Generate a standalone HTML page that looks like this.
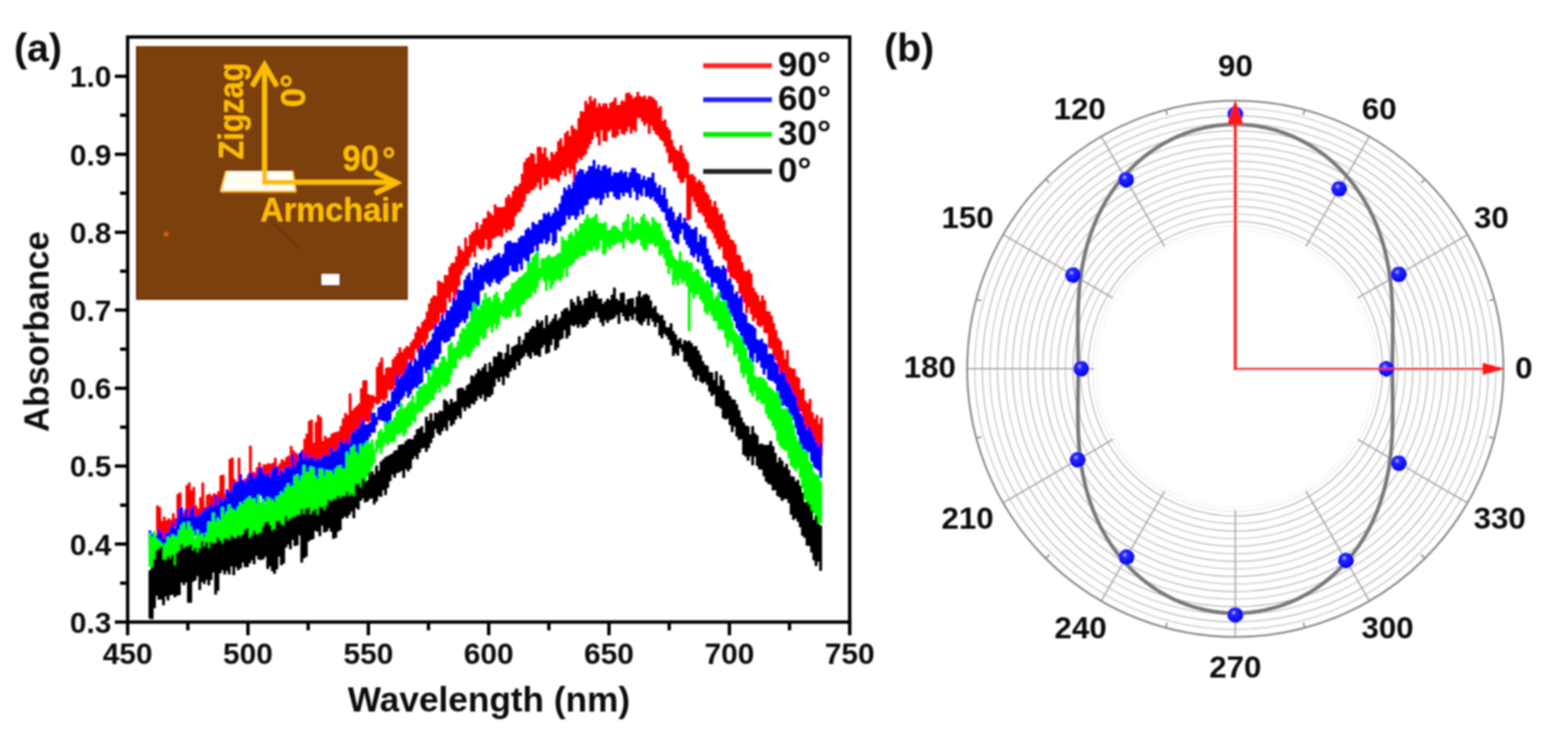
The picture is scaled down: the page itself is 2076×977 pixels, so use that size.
<!DOCTYPE html>
<html><head><meta charset="utf-8"><title>Absorbance figure</title><style>html,body{margin:0;padding:0;background:#fff;width:2076px;height:977px;overflow:hidden}</style></head><body>
<svg width="2076" height="977" viewBox="0 0 2076 977" style="display:block">
<rect x="0" y="0" width="2076" height="977" fill="#ffffff"/>
<defs><filter id="glob" filterUnits="userSpaceOnUse" x="0" y="0" width="2076" height="977"><feGaussianBlur stdDeviation="1.0"/></filter></defs>
<g filter="url(#glob)">
<g stroke-width="0.8" stroke-linejoin="miter">
<path fill="#ff0000" stroke="#ff0000" d="M207.0 669.4L210.0 669.4L210.0 671.7L213.0 671.7L213.0 690.0L216.0 690.0L216.0 684.2L219.0 684.2L219.0 689.1L222.0 689.1L222.0 686.8L225.0 686.8L225.0 688.6L228.0 688.6L228.0 679.9L231.0 679.9L231.0 686.6L234.0 686.6L234.0 654.3L237.0 654.3L237.0 652.3L240.0 652.3L240.0 680.6L243.0 680.6L243.0 677.1L246.0 677.1L246.0 642.7L249.0 642.7L249.0 639.2L252.0 639.2L252.0 649.4L255.0 649.4L255.0 644.9L258.0 644.9L258.0 669.6L261.0 669.6L261.0 673.6L264.0 673.6L264.0 658.7L267.0 658.7L267.0 639.2L270.0 639.2L270.0 671.6L273.0 671.6L273.0 655.3L276.0 655.3L276.0 654.1L279.0 654.1L279.0 656.8L282.0 656.8L282.0 653.5L285.0 653.5L285.0 654.8L288.0 654.8L288.0 650.8L291.0 650.8L291.0 629.4L294.0 629.4L294.0 628.9L297.0 628.9L297.0 654.3L300.0 654.3L300.0 650.4L303.0 650.4L303.0 607.9L306.0 607.9L306.0 606.1L309.0 606.1L309.0 634.5L312.0 634.5L312.0 640.3L315.0 640.3L315.0 606.5L318.0 606.5L318.0 638.7L321.0 638.7L321.0 635.6L324.0 635.6L324.0 633.7L327.0 633.7L327.0 629.1L330.0 629.1L330.0 590.4L333.0 590.4L333.0 624.9L336.0 624.9L336.0 626.0L339.0 626.0L339.0 618.9L342.0 618.9L342.0 612.4L345.0 612.4L345.0 620.4L348.0 620.4L348.0 615.1L351.0 615.1L351.0 615.2L354.0 615.2L354.0 613.4L357.0 613.4L357.0 614.4L360.0 614.4L360.0 613.0L363.0 613.0L363.0 606.5L366.0 606.5L366.0 617.5L369.0 617.5L369.0 614.0L372.0 614.0L372.0 608.5L375.0 608.5L375.0 610.5L378.0 610.5L378.0 605.3L381.0 605.3L381.0 603.7L384.0 603.7L384.0 590.8L387.0 590.8L387.0 596.6L390.0 596.6L390.0 599.5L393.0 599.5L393.0 602.5L396.0 602.5L396.0 600.6L399.0 600.6L399.0 595.6L402.0 595.6L402.0 581.2L405.0 581.2L405.0 574.3L408.0 574.3L408.0 557.7L411.0 557.7L411.0 555.9L414.0 555.9L414.0 586.6L417.0 586.6L417.0 559.1L420.0 559.1L420.0 549.8L423.0 549.8L423.0 552.6L426.0 552.6L426.0 584.2L429.0 584.2L429.0 577.3L432.0 577.3L432.0 580.3L435.0 580.3L435.0 579.3L438.0 579.3L438.0 574.4L441.0 574.4L441.0 573.0L444.0 573.0L444.0 572.2L447.0 572.2L447.0 571.3L450.0 571.3L450.0 564.3L453.0 564.3L453.0 554.2L456.0 554.2L456.0 547.1L459.0 547.1L459.0 550.0L462.0 550.0L462.0 521.2L465.0 521.2L465.0 543.7L468.0 543.7L468.0 540.3L471.0 540.3L471.0 537.7L474.0 537.7L474.0 534.5L477.0 534.5L477.0 514.2L480.0 514.2L480.0 504.0L483.0 504.0L483.0 503.6L486.0 503.6L486.0 522.0L489.0 522.0L489.0 523.3L492.0 523.3L492.0 523.6L495.0 523.6L495.0 525.6L498.0 525.6L498.0 485.9L501.0 485.9L501.0 480.0L504.0 480.0L504.0 473.7L507.0 473.7L507.0 496.6L510.0 496.6L510.0 487.3L513.0 487.3L513.0 486.4L516.0 486.4L516.0 486.7L519.0 486.7L519.0 475.9L522.0 475.9L522.0 472.2L525.0 472.2L525.0 468.0L528.0 468.0L528.0 460.2L531.0 460.2L531.0 466.3L534.0 466.3L534.0 462.0L537.0 462.0L537.0 458.4L540.0 458.4L540.0 459.2L543.0 459.2L543.0 453.3L546.0 453.3L546.0 449.5L549.0 449.5L549.0 440.3L552.0 440.3L552.0 432.3L555.0 432.3L555.0 434.5L558.0 434.5L558.0 426.4L561.0 426.4L561.0 423.3L564.0 423.3L564.0 413.0L567.0 413.0L567.0 401.9L570.0 401.9L570.0 395.0L573.0 395.0L573.0 391.3L576.0 391.3L576.0 392.3L579.0 392.3L579.0 371.8L582.0 371.8L582.0 373.3L585.0 373.3L585.0 374.9L588.0 374.9L588.0 364.4L591.0 364.4L591.0 364.8L594.0 364.8L594.0 353.2L597.0 353.2L597.0 348.4L600.0 348.4L600.0 348.0L603.0 348.0L603.0 339.4L606.0 339.4L606.0 326.0L609.0 326.0L609.0 330.6L612.0 330.6L612.0 333.2L615.0 333.2L615.0 314.9L618.0 314.9L618.0 326.3L621.0 326.3L621.0 311.1L624.0 311.1L624.0 307.5L627.0 307.5L627.0 305.0L630.0 305.0L630.0 294.7L633.0 294.7L633.0 303.8L636.0 303.8L636.0 297.6L639.0 297.6L639.0 289.7L642.0 289.7L642.0 288.9L645.0 288.9L645.0 279.8L648.0 279.8L648.0 282.4L651.0 282.4L651.0 285.4L654.0 285.4L654.0 271.0L657.0 271.0L657.0 274.5L660.0 274.5L660.0 274.7L663.0 274.7L663.0 274.8L666.0 274.8L666.0 273.9L669.0 273.9L669.0 262.0L672.0 262.0L672.0 258.1L675.0 258.1L675.0 261.9L678.0 261.9L678.0 253.0L681.0 253.0L681.0 246.6L684.0 246.6L684.0 247.2L687.0 247.2L687.0 243.5L690.0 243.5L690.0 230.4L693.0 230.4L693.0 214.9L696.0 214.9L696.0 210.1L699.0 210.1L699.0 208.0L702.0 208.0L702.0 203.1L705.0 203.1L705.0 204.3L708.0 204.3L708.0 216.7L711.0 216.7L711.0 194.8L714.0 194.8L714.0 194.9L717.0 194.9L717.0 203.4L720.0 203.4L720.0 195.5L723.0 195.5L723.0 208.4L726.0 208.4L726.0 212.9L729.0 212.9L729.0 201.5L732.0 201.5L732.0 205.1L735.0 205.1L735.0 201.2L738.0 201.2L738.0 187.3L741.0 187.3L741.0 183.6L744.0 183.6L744.0 193.8L747.0 193.8L747.0 176.5L750.0 176.5L750.0 173.4L753.0 173.4L753.0 180.6L756.0 180.6L756.0 166.6L759.0 166.6L759.0 170.4L762.0 170.4L762.0 172.3L765.0 172.3L765.0 156.7L768.0 156.7L768.0 147.6L771.0 147.6L771.0 148.2L774.0 148.2L774.0 134.0L777.0 134.0L777.0 138.1L780.0 138.1L780.0 127.8L783.0 127.8L783.0 134.1L786.0 134.1L786.0 130.5L789.0 130.5L789.0 142.3L792.0 142.3L792.0 136.9L795.0 136.9L795.0 141.1L798.0 141.1L798.0 137.0L801.0 137.0L801.0 137.4L804.0 137.4L804.0 143.2L807.0 143.2L807.0 136.5L810.0 136.5L810.0 134.4L813.0 134.4L813.0 129.7L816.0 129.7L816.0 139.7L819.0 139.7L819.0 138.9L822.0 138.9L822.0 133.4L825.0 133.4L825.0 134.8L828.0 134.8L828.0 123.9L831.0 123.9L831.0 122.8L834.0 122.8L834.0 126.0L837.0 126.0L837.0 130.6L840.0 130.6L840.0 128.5L843.0 128.5L843.0 122.0L846.0 122.0L846.0 127.3L849.0 127.3L849.0 128.8L852.0 128.8L852.0 126.7L855.0 126.7L855.0 131.3L858.0 131.3L858.0 127.4L861.0 127.4L861.0 128.3L864.0 128.3L864.0 130.4L867.0 130.4L867.0 133.6L870.0 133.6L870.0 143.3L873.0 143.3L873.0 140.9L876.0 140.9L876.0 160.4L879.0 160.4L879.0 158.5L882.0 158.5L882.0 168.6L885.0 168.6L885.0 172.1L888.0 172.1L888.0 185.4L891.0 185.4L891.0 194.2L894.0 194.2L894.0 198.6L897.0 198.6L897.0 200.3L900.0 200.3L900.0 192.7L903.0 192.7L903.0 203.1L906.0 203.1L906.0 210.1L909.0 210.1L909.0 214.4L912.0 214.4L912.0 231.4L915.0 231.4L915.0 230.5L918.0 230.5L918.0 233.8L921.0 233.8L921.0 241.7L924.0 241.7L924.0 238.3L927.0 238.3L927.0 240.9L930.0 240.9L930.0 244.9L933.0 244.9L933.0 254.8L936.0 254.8L936.0 257.8L939.0 257.8L939.0 264.5L942.0 264.5L942.0 273.4L945.0 273.4L945.0 266.6L948.0 266.6L948.0 275.2L951.0 275.2L951.0 284.4L954.0 284.4L954.0 283.1L957.0 283.1L957.0 292.0L960.0 292.0L960.0 304.6L963.0 304.6L963.0 310.7L966.0 310.7L966.0 317.1L969.0 317.1L969.0 318.6L972.0 318.6L972.0 323.4L975.0 323.4L975.0 337.2L978.0 337.2L978.0 338.3L981.0 338.3L981.0 347.5L984.0 347.5L984.0 358.3L987.0 358.3L987.0 359.5L990.0 359.5L990.0 357.3L993.0 357.3L993.0 362.3L996.0 362.3L996.0 381.1L999.0 381.1L999.0 386.5L1002.0 386.5L1002.0 390.9L1005.0 390.9L1005.0 399.0L1008.0 399.0L1008.0 391.6L1011.0 391.6L1011.0 397.9L1014.0 397.9L1014.0 412.3L1017.0 412.3L1017.0 412.7L1020.0 412.7L1020.0 418.2L1023.0 418.2L1023.0 427.9L1026.0 427.9L1026.0 437.3L1029.0 437.3L1029.0 447.9L1032.0 447.9L1032.0 451.5L1035.0 451.5L1035.0 463.8L1038.0 463.8L1038.0 475.8L1041.0 475.8L1041.0 463.6L1044.0 463.6L1044.0 486.0L1047.0 486.0L1047.0 488.1L1050.0 488.1L1050.0 488.4L1053.0 488.4L1053.0 498.4L1056.0 498.4L1056.0 500.5L1059.0 500.5L1059.0 516.1L1062.0 516.1L1062.0 514.2L1065.0 514.2L1065.0 530.7L1068.0 530.7L1068.0 534.2L1071.0 534.2L1071.0 528.4L1074.0 528.4L1074.0 546.0L1077.0 546.0L1077.0 554.6L1080.0 554.6L1080.0 549.7L1083.0 549.7L1083.0 561.5L1086.0 561.5L1086.0 553.2L1089.0 553.2L1089.0 603.4L1086.0 603.4L1086.0 607.3L1083.0 607.3L1083.0 593.4L1080.0 593.4L1080.0 590.3L1077.0 590.3L1077.0 584.7L1074.0 584.7L1074.0 578.8L1071.0 578.8L1071.0 573.9L1068.0 573.9L1068.0 566.8L1065.0 566.8L1065.0 565.0L1062.0 565.0L1062.0 544.5L1059.0 544.5L1059.0 546.4L1056.0 546.4L1056.0 537.5L1053.0 537.5L1053.0 531.7L1050.0 531.7L1050.0 521.1L1047.0 521.1L1047.0 519.8L1044.0 519.8L1044.0 507.0L1041.0 507.0L1041.0 507.4L1038.0 507.4L1038.0 502.4L1035.0 502.4L1035.0 496.2L1032.0 496.2L1032.0 486.8L1029.0 486.8L1029.0 476.9L1026.0 476.9L1026.0 471.1L1023.0 471.1L1023.0 461.5L1020.0 461.5L1020.0 460.2L1017.0 460.2L1017.0 441.1L1014.0 441.1L1014.0 440.3L1011.0 440.3L1011.0 430.3L1008.0 430.3L1008.0 432.4L1005.0 432.4L1005.0 430.9L1002.0 430.9L1002.0 420.7L999.0 420.7L999.0 425.0L996.0 425.0L996.0 415.5L993.0 415.5L993.0 406.6L990.0 406.6L990.0 414.6L987.0 414.6L987.0 400.4L984.0 400.4L984.0 393.4L981.0 393.4L981.0 388.0L978.0 388.0L978.0 374.7L975.0 374.7L975.0 370.1L972.0 370.1L972.0 368.1L969.0 368.1L969.0 366.6L966.0 366.6L966.0 360.1L963.0 360.1L963.0 345.0L960.0 345.0L960.0 342.4L957.0 342.4L957.0 326.3L954.0 326.3L954.0 329.7L951.0 329.7L951.0 322.7L948.0 322.7L948.0 315.3L945.0 315.3L945.0 308.0L942.0 308.0L942.0 303.5L939.0 303.5L939.0 301.8L936.0 301.8L936.0 294.4L933.0 294.4L933.0 285.7L930.0 285.7L930.0 281.7L927.0 281.7L927.0 281.3L924.0 281.3L924.0 273.2L921.0 273.2L921.0 266.8L918.0 266.8L918.0 260.3L915.0 260.3L915.0 290.0L912.0 290.0L912.0 292.0L909.0 292.0L909.0 235.4L906.0 235.4L906.0 241.2L903.0 241.2L903.0 241.7L900.0 241.7L900.0 236.1L897.0 236.1L897.0 226.4L894.0 226.4L894.0 226.2L891.0 226.2L891.0 214.5L888.0 214.5L888.0 215.7L885.0 215.7L885.0 202.1L882.0 202.1L882.0 193.6L879.0 193.6L879.0 187.0L876.0 187.0L876.0 184.4L873.0 184.4L873.0 179.8L870.0 179.8L870.0 177.2L867.0 177.2L867.0 172.4L864.0 172.4L864.0 166.0L861.0 166.0L861.0 177.0L858.0 177.0L858.0 162.9L855.0 162.9L855.0 166.1L852.0 166.1L852.0 160.9L849.0 160.9L849.0 155.9L846.0 155.9L846.0 155.9L843.0 155.9L843.0 173.9L840.0 173.9L840.0 171.3L837.0 171.3L837.0 176.7L834.0 176.7L834.0 167.7L831.0 167.7L831.0 173.7L828.0 173.7L828.0 178.1L825.0 178.1L825.0 176.8L822.0 176.8L822.0 170.9L819.0 170.9L819.0 179.2L816.0 179.2L816.0 182.1L813.0 182.1L813.0 181.7L810.0 181.7L810.0 171.3L807.0 171.3L807.0 173.9L804.0 173.9L804.0 186.9L801.0 186.9L801.0 186.4L798.0 186.4L798.0 171.8L795.0 171.8L795.0 192.1L792.0 192.1L792.0 181.3L789.0 181.3L789.0 174.1L786.0 174.1L786.0 184.3L783.0 184.3L783.0 190.5L780.0 190.5L780.0 196.2L777.0 196.2L777.0 204.0L774.0 204.0L774.0 206.9L771.0 206.9L771.0 211.7L768.0 211.7L768.0 208.8L765.0 208.8L765.0 215.2L762.0 215.2L762.0 240.0L759.0 240.0L759.0 224.2L756.0 224.2L756.0 229.4L753.0 229.4L753.0 221.8L750.0 221.8L750.0 233.1L747.0 233.1L747.0 225.9L744.0 225.9L744.0 231.0L741.0 231.0L741.0 240.2L738.0 240.2L738.0 237.1L735.0 237.1L735.0 236.2L732.0 236.2L732.0 237.3L729.0 237.3L729.0 234.2L726.0 234.2L726.0 243.5L723.0 243.5L723.0 245.4L720.0 245.4L720.0 235.0L717.0 235.0L717.0 250.9L714.0 250.9L714.0 241.5L711.0 241.5L711.0 247.1L708.0 247.1L708.0 250.5L705.0 250.5L705.0 251.9L702.0 251.9L702.0 255.9L699.0 255.9L699.0 256.5L696.0 256.5L696.0 266.6L693.0 266.6L693.0 273.9L690.0 273.9L690.0 279.6L687.0 279.6L687.0 281.6L684.0 281.6L684.0 286.1L681.0 286.1L681.0 299.7L678.0 299.7L678.0 304.4L675.0 304.4L675.0 303.7L672.0 303.7L672.0 307.6L669.0 307.6L669.0 302.1L666.0 302.1L666.0 313.5L663.0 313.5L663.0 312.0L660.0 312.0L660.0 312.2L657.0 312.2L657.0 314.4L654.0 314.4L654.0 315.8L651.0 315.8L651.0 328.1L648.0 328.1L648.0 330.6L645.0 330.6L645.0 316.5L642.0 316.5L642.0 328.2L639.0 328.2L639.0 330.5L636.0 330.5L636.0 328.6L633.0 328.6L633.0 325.1L630.0 325.1L630.0 340.0L627.0 340.0L627.0 333.8L624.0 333.8L624.0 340.7L621.0 340.7L621.0 351.3L618.0 351.3L618.0 352.3L615.0 352.3L615.0 357.1L612.0 357.1L612.0 363.3L609.0 363.3L609.0 378.2L606.0 378.2L606.0 389.5L603.0 389.5L603.0 398.2L600.0 398.2L600.0 386.4L597.0 386.4L597.0 400.1L594.0 400.1L594.0 393.9L591.0 393.9L591.0 412.3L588.0 412.3L588.0 417.3L585.0 417.3L585.0 413.7L582.0 413.7L582.0 425.6L579.0 425.6L579.0 429.6L576.0 429.6L576.0 435.0L573.0 435.0L573.0 436.3L570.0 436.3L570.0 438.6L567.0 438.6L567.0 449.0L564.0 449.0L564.0 457.3L561.0 457.3L561.0 453.2L558.0 453.2L558.0 466.0L555.0 466.0L555.0 466.4L552.0 466.4L552.0 461.7L549.0 461.7L549.0 476.0L546.0 476.0L546.0 480.1L543.0 480.1L543.0 475.2L540.0 475.2L540.0 490.4L537.0 490.4L537.0 496.9L534.0 496.9L534.0 495.5L531.0 495.5L531.0 498.8L528.0 498.8L528.0 508.5L525.0 508.5L525.0 510.6L522.0 510.6L522.0 514.3L519.0 514.3L519.0 517.1L516.0 517.1L516.0 515.7L513.0 515.7L513.0 527.3L510.0 527.3L510.0 530.9L507.0 530.9L507.0 528.1L504.0 528.1L504.0 533.6L501.0 533.6L501.0 535.1L498.0 535.1L498.0 532.9L495.0 532.9L495.0 540.2L492.0 540.2L492.0 556.6L489.0 556.6L489.0 558.5L486.0 558.5L486.0 557.4L483.0 557.4L483.0 577.8L480.0 577.8L480.0 574.2L477.0 574.2L477.0 581.0L474.0 581.0L474.0 584.5L471.0 584.5L471.0 592.4L468.0 592.4L468.0 585.8L465.0 585.8L465.0 600.2L462.0 600.2L462.0 602.3L459.0 602.3L459.0 597.0L456.0 597.0L456.0 597.0L453.0 597.0L453.0 607.8L450.0 607.8L450.0 601.0L447.0 601.0L447.0 613.0L444.0 613.0L444.0 603.5L441.0 603.5L441.0 615.5L438.0 615.5L438.0 616.2L435.0 616.2L435.0 607.6L432.0 607.6L432.0 609.4L429.0 609.4L429.0 624.2L426.0 624.2L426.0 612.7L423.0 612.7L423.0 622.8L420.0 622.8L420.0 616.5L417.0 616.5L417.0 613.3L414.0 613.3L414.0 627.9L411.0 627.9L411.0 627.0L408.0 627.0L408.0 620.0L405.0 620.0L405.0 614.4L402.0 614.4L402.0 619.1L399.0 619.1L399.0 611.2L396.0 611.2L396.0 624.2L393.0 624.2L393.0 629.7L390.0 629.7L390.0 631.6L387.0 631.6L387.0 634.6L384.0 634.6L384.0 619.3L381.0 619.3L381.0 624.9L378.0 624.9L378.0 630.0L375.0 630.0L375.0 621.5L372.0 621.5L372.0 630.4L369.0 630.4L369.0 635.1L366.0 635.1L366.0 643.5L363.0 643.5L363.0 643.3L360.0 643.3L360.0 653.0L357.0 653.0L357.0 650.5L354.0 650.5L354.0 638.5L351.0 638.5L351.0 638.2L348.0 638.2L348.0 632.2L345.0 632.2L345.0 629.2L342.0 629.2L342.0 634.6L339.0 634.6L339.0 637.7L336.0 637.7L336.0 647.3L333.0 647.3L333.0 637.9L330.0 637.9L330.0 647.4L327.0 647.4L327.0 649.2L324.0 649.2L324.0 653.7L321.0 653.7L321.0 641.7L318.0 641.7L318.0 654.6L315.0 654.6L315.0 652.5L312.0 652.5L312.0 658.6L309.0 658.6L309.0 656.1L306.0 656.1L306.0 665.2L303.0 665.2L303.0 659.0L300.0 659.0L300.0 673.3L297.0 673.3L297.0 675.7L294.0 675.7L294.0 680.0L291.0 680.0L291.0 682.3L288.0 682.3L288.0 666.9L285.0 666.9L285.0 674.1L282.0 674.1L282.0 677.0L279.0 677.0L279.0 671.9L276.0 671.9L276.0 681.7L273.0 681.7L273.0 685.3L270.0 685.3L270.0 680.6L267.0 680.6L267.0 693.6L264.0 693.6L264.0 681.9L261.0 681.9L261.0 684.1L258.0 684.1L258.0 697.3L255.0 697.3L255.0 690.2L252.0 690.2L252.0 690.8L249.0 690.8L249.0 699.2L246.0 699.2L246.0 688.4L243.0 688.4L243.0 692.6L240.0 692.6L240.0 698.6L237.0 698.6L237.0 697.4L234.0 697.4L234.0 697.4L231.0 697.4L231.0 707.1L228.0 707.1L228.0 700.6L225.0 700.6L225.0 712.1L222.0 712.1L222.0 726.8L219.0 726.8L219.0 728.2L216.0 728.2L216.0 719.1L213.0 719.1L213.0 729.0L210.0 729.0L210.0 720.2L207.0 720.2Z"/>
<path fill="#0000ff" stroke="#0000ff" d="M197.0 702.8L200.0 702.8L200.0 706.4L203.0 706.4L203.0 707.5L206.0 707.5L206.0 708.7L209.0 708.7L209.0 700.4L212.0 700.4L212.0 705.4L215.0 705.4L215.0 713.8L218.0 713.8L218.0 705.3L221.0 705.3L221.0 706.5L224.0 706.5L224.0 699.1L227.0 699.1L227.0 691.8L230.0 691.8L230.0 699.4L233.0 699.4L233.0 686.9L236.0 686.9L236.0 672.9L239.0 672.9L239.0 672.0L242.0 672.0L242.0 683.5L245.0 683.5L245.0 673.8L248.0 673.8L248.0 684.2L251.0 684.2L251.0 675.1L254.0 675.1L254.0 670.5L257.0 670.5L257.0 684.5L260.0 684.5L260.0 682.2L263.0 682.2L263.0 681.4L266.0 681.4L266.0 677.2L269.0 677.2L269.0 674.6L272.0 674.6L272.0 673.8L275.0 673.8L275.0 670.8L278.0 670.8L278.0 668.0L281.0 668.0L281.0 670.6L284.0 670.6L284.0 655.9L287.0 655.9L287.0 668.6L290.0 668.6L290.0 658.3L293.0 658.3L293.0 662.9L296.0 662.9L296.0 660.1L299.0 660.1L299.0 648.1L302.0 648.1L302.0 652.0L305.0 652.0L305.0 649.4L308.0 649.4L308.0 640.5L311.0 640.5L311.0 638.2L314.0 638.2L314.0 637.8L317.0 637.8L317.0 627.9L320.0 627.9L320.0 636.0L323.0 636.0L323.0 638.1L326.0 638.1L326.0 634.0L329.0 634.0L329.0 626.4L332.0 626.4L332.0 627.4L335.0 627.4L335.0 633.3L338.0 633.3L338.0 629.9L341.0 629.9L341.0 621.0L344.0 621.0L344.0 618.8L347.0 618.8L347.0 626.2L350.0 626.2L350.0 628.1L353.0 628.1L353.0 627.3L356.0 627.3L356.0 632.1L359.0 632.1L359.0 621.6L362.0 621.6L362.0 618.3L365.0 618.3L365.0 617.8L368.0 617.8L368.0 629.3L371.0 629.3L371.0 622.6L374.0 622.6L374.0 625.3L377.0 625.3L377.0 618.5L380.0 618.5L380.0 618.0L383.0 618.0L383.0 619.9L386.0 619.9L386.0 601.6L389.0 601.6L389.0 617.8L392.0 617.8L392.0 610.8L395.0 610.8L395.0 600.4L398.0 600.4L398.0 597.7L401.0 597.7L401.0 607.8L404.0 607.8L404.0 600.1L407.0 600.1L407.0 607.9L410.0 607.9L410.0 605.2L413.0 605.2L413.0 605.2L416.0 605.2L416.0 610.2L419.0 610.2L419.0 606.6L422.0 606.6L422.0 607.9L425.0 607.9L425.0 606.3L428.0 606.3L428.0 602.2L431.0 602.2L431.0 603.4L434.0 603.4L434.0 602.2L437.0 602.2L437.0 592.4L440.0 592.4L440.0 597.5L443.0 597.5L443.0 597.3L446.0 597.3L446.0 593.0L449.0 593.0L449.0 584.3L452.0 584.3L452.0 586.1L455.0 586.1L455.0 587.3L458.0 587.3L458.0 582.3L461.0 582.3L461.0 587.2L464.0 587.2L464.0 574.6L467.0 574.6L467.0 571.7L470.0 571.7L470.0 567.7L473.0 567.7L473.0 567.3L476.0 567.3L476.0 561.6L479.0 561.6L479.0 554.5L482.0 554.5L482.0 562.3L485.0 562.3L485.0 562.1L488.0 562.1L488.0 559.6L491.0 559.6L491.0 546.8L494.0 546.8L494.0 546.7L497.0 546.7L497.0 552.2L500.0 552.2L500.0 539.7L503.0 539.7L503.0 538.0L506.0 538.0L506.0 533.3L509.0 533.3L509.0 534.8L512.0 534.8L512.0 530.4L515.0 530.4L515.0 531.9L518.0 531.9L518.0 518.6L521.0 518.6L521.0 513.8L524.0 513.8L524.0 496.5L527.0 496.5L527.0 501.8L530.0 501.8L530.0 497.7L533.0 497.7L533.0 495.3L536.0 495.3L536.0 488.2L539.0 488.2L539.0 481.1L542.0 481.1L542.0 478.4L545.0 478.4L545.0 484.8L548.0 484.8L548.0 474.6L551.0 474.6L551.0 478.0L554.0 478.0L554.0 462.0L557.0 462.0L557.0 457.2L560.0 457.2L560.0 462.9L563.0 462.9L563.0 457.2L566.0 457.2L566.0 453.4L569.0 453.4L569.0 450.6L572.0 450.6L572.0 441.4L575.0 441.4L575.0 429.7L578.0 429.7L578.0 432.7L581.0 432.7L581.0 426.0L584.0 426.0L584.0 417.2L587.0 417.2L587.0 423.6L590.0 423.6L590.0 410.9L593.0 410.9L593.0 411.6L596.0 411.6L596.0 406.1L599.0 406.1L599.0 394.6L602.0 394.6L602.0 397.5L605.0 397.5L605.0 383.5L608.0 383.5L608.0 384.6L611.0 384.6L611.0 384.6L614.0 384.6L614.0 370.8L617.0 370.8L617.0 365.0L620.0 365.0L620.0 361.3L623.0 361.3L623.0 370.9L626.0 370.9L626.0 354.4L629.0 354.4L629.0 348.1L632.0 348.1L632.0 357.1L635.0 357.1L635.0 350.7L638.0 350.7L638.0 352.2L641.0 352.2L641.0 348.7L644.0 348.7L644.0 342.7L647.0 342.7L647.0 346.6L650.0 346.6L650.0 344.1L653.0 344.1L653.0 339.1L656.0 339.1L656.0 337.6L659.0 337.6L659.0 335.2L662.0 335.2L662.0 341.1L665.0 341.1L665.0 336.5L668.0 336.5L668.0 322.9L671.0 322.9L671.0 319.6L674.0 319.6L674.0 319.0L677.0 319.0L677.0 321.9L680.0 321.9L680.0 321.3L683.0 321.3L683.0 321.8L686.0 321.8L686.0 315.4L689.0 315.4L689.0 312.4L692.0 312.4L692.0 312.7L695.0 312.7L695.0 304.4L698.0 304.4L698.0 301.7L701.0 301.7L701.0 304.8L704.0 304.8L704.0 294.1L707.0 294.1L707.0 296.7L710.0 296.7L710.0 297.3L713.0 297.3L713.0 291.5L716.0 291.5L716.0 291.3L719.0 291.3L719.0 282.7L722.0 282.7L722.0 284.2L725.0 284.2L725.0 281.2L728.0 281.2L728.0 286.4L731.0 286.4L731.0 282.6L734.0 282.6L734.0 275.1L737.0 275.1L737.0 279.3L740.0 279.3L740.0 269.8L743.0 269.8L743.0 259.2L746.0 259.2L746.0 248.7L749.0 248.7L749.0 251.9L752.0 251.9L752.0 244.9L755.0 244.9L755.0 249.9L758.0 249.9L758.0 240.9L761.0 240.9L761.0 231.8L764.0 231.8L764.0 227.3L767.0 227.3L767.0 224.1L770.0 224.1L770.0 225.1L773.0 225.1L773.0 230.3L776.0 230.3L776.0 226.8L779.0 226.8L779.0 220.1L782.0 220.1L782.0 220.5L785.0 220.5L785.0 212.0L788.0 212.0L788.0 223.7L791.0 223.7L791.0 218.4L794.0 218.4L794.0 225.8L797.0 225.8L797.0 220.0L800.0 220.0L800.0 219.0L803.0 219.0L803.0 223.8L806.0 223.8L806.0 221.9L809.0 221.9L809.0 233.0L812.0 233.0L812.0 228.3L815.0 228.3L815.0 229.1L818.0 229.1L818.0 228.5L821.0 228.5L821.0 225.7L824.0 225.7L824.0 229.2L827.0 229.2L827.0 227.4L830.0 227.4L830.0 234.9L833.0 234.9L833.0 228.4L836.0 228.4L836.0 222.6L839.0 222.6L839.0 222.9L842.0 222.9L842.0 229.1L845.0 229.1L845.0 230.6L848.0 230.6L848.0 238.1L851.0 238.1L851.0 233.1L854.0 233.1L854.0 239.1L857.0 239.1L857.0 235.0L860.0 235.0L860.0 235.4L863.0 235.4L863.0 228.9L866.0 228.9L866.0 241.9L869.0 241.9L869.0 249.0L872.0 249.0L872.0 245.3L875.0 245.3L875.0 258.3L878.0 258.3L878.0 248.7L881.0 248.7L881.0 263.7L884.0 263.7L884.0 276.7L887.0 276.7L887.0 274.1L890.0 274.1L890.0 281.0L893.0 281.0L893.0 291.8L896.0 291.8L896.0 287.1L899.0 287.1L899.0 282.4L902.0 282.4L902.0 295.6L905.0 295.6L905.0 288.7L908.0 288.7L908.0 295.4L911.0 295.4L911.0 298.9L914.0 298.9L914.0 303.6L917.0 303.6L917.0 303.2L920.0 303.2L920.0 300.8L923.0 300.8L923.0 320.7L926.0 320.7L926.0 310.8L929.0 310.8L929.0 314.3L932.0 314.3L932.0 313.2L935.0 313.2L935.0 329.3L938.0 329.3L938.0 338.4L941.0 338.4L941.0 344.1L944.0 344.1L944.0 353.9L947.0 353.9L947.0 352.6L950.0 352.6L950.0 353.2L953.0 353.2L953.0 356.9L956.0 356.9L956.0 351.8L959.0 351.8L959.0 355.5L962.0 355.5L962.0 371.7L965.0 371.7L965.0 368.4L968.0 368.4L968.0 377.3L971.0 377.3L971.0 389.2L974.0 389.2L974.0 386.5L977.0 386.5L977.0 395.1L980.0 395.1L980.0 391.7L983.0 391.7L983.0 414.7L986.0 414.7L986.0 416.8L989.0 416.8L989.0 427.8L992.0 427.8L992.0 429.5L995.0 429.5L995.0 431.2L998.0 431.2L998.0 434.5L1001.0 434.5L1001.0 449.5L1004.0 449.5L1004.0 451.0L1007.0 451.0L1007.0 448.7L1010.0 448.7L1010.0 454.3L1013.0 454.3L1013.0 455.9L1016.0 455.9L1016.0 469.1L1019.0 469.1L1019.0 468.3L1022.0 468.3L1022.0 469.4L1025.0 469.4L1025.0 479.8L1028.0 479.8L1028.0 483.0L1031.0 483.0L1031.0 495.7L1034.0 495.7L1034.0 492.3L1037.0 492.3L1037.0 494.0L1040.0 494.0L1040.0 504.2L1043.0 504.2L1043.0 507.8L1046.0 507.8L1046.0 514.7L1049.0 514.7L1049.0 521.0L1052.0 521.0L1052.0 525.2L1055.0 525.2L1055.0 538.2L1058.0 538.2L1058.0 547.5L1061.0 547.5L1061.0 551.8L1064.0 551.8L1064.0 562.4L1067.0 562.4L1067.0 568.9L1070.0 568.9L1070.0 564.8L1073.0 564.8L1073.0 570.9L1076.0 570.9L1076.0 578.7L1079.0 578.7L1079.0 585.3L1082.0 585.3L1082.0 591.6L1085.0 591.6L1085.0 587.0L1088.0 587.0L1088.0 632.5L1085.0 632.5L1085.0 622.2L1082.0 622.2L1082.0 620.1L1079.0 620.1L1079.0 618.2L1076.0 618.2L1076.0 610.8L1073.0 610.8L1073.0 598.5L1070.0 598.5L1070.0 606.2L1067.0 606.2L1067.0 595.3L1064.0 595.3L1064.0 597.9L1061.0 597.9L1061.0 594.0L1058.0 594.0L1058.0 575.8L1055.0 575.8L1055.0 566.7L1052.0 566.7L1052.0 555.4L1049.0 555.4L1049.0 553.0L1046.0 553.0L1046.0 547.3L1043.0 547.3L1043.0 538.6L1040.0 538.6L1040.0 535.8L1037.0 535.8L1037.0 537.3L1034.0 537.3L1034.0 530.0L1031.0 530.0L1031.0 522.0L1028.0 522.0L1028.0 507.2L1025.0 507.2L1025.0 504.2L1022.0 504.2L1022.0 503.8L1019.0 503.8L1019.0 502.4L1016.0 502.4L1016.0 488.2L1013.0 488.2L1013.0 495.5L1010.0 495.5L1010.0 486.4L1007.0 486.4L1007.0 477.3L1004.0 477.3L1004.0 480.0L1001.0 480.0L1001.0 467.5L998.0 467.5L998.0 479.6L995.0 479.6L995.0 476.6L992.0 476.6L992.0 462.7L989.0 462.7L989.0 456.7L986.0 456.7L986.0 458.9L983.0 458.9L983.0 445.0L980.0 445.0L980.0 438.2L977.0 438.2L977.0 434.5L974.0 434.5L974.0 425.1L971.0 425.1L971.0 418.9L968.0 418.9L968.0 416.1L965.0 416.1L965.0 414.0L962.0 414.0L962.0 404.5L959.0 404.5L959.0 397.0L956.0 397.0L956.0 394.1L953.0 394.1L953.0 382.3L950.0 382.3L950.0 374.7L947.0 374.7L947.0 373.4L944.0 373.4L944.0 380.4L941.0 380.4L941.0 367.1L938.0 367.1L938.0 365.2L935.0 365.2L935.0 357.1L932.0 357.1L932.0 349.0L929.0 349.0L929.0 338.5L926.0 338.5L926.0 346.7L923.0 346.7L923.0 335.7L920.0 335.7L920.0 340.3L917.0 340.3L917.0 337.6L914.0 337.6L914.0 327.6L911.0 327.6L911.0 323.7L908.0 323.7L908.0 317.1L905.0 317.1L905.0 303.1L902.0 303.1L902.0 309.6L899.0 309.6L899.0 322.9L896.0 322.9L896.0 320.7L893.0 320.7L893.0 316.0L890.0 316.0L890.0 306.2L887.0 306.2L887.0 300.2L884.0 300.2L884.0 291.6L881.0 291.6L881.0 281.0L878.0 281.0L878.0 279.5L875.0 279.5L875.0 274.3L872.0 274.3L872.0 269.6L869.0 269.6L869.0 266.3L866.0 266.3L866.0 260.3L863.0 260.3L863.0 263.3L860.0 263.3L860.0 259.8L857.0 259.8L857.0 260.2L854.0 260.2L854.0 248.6L851.0 248.6L851.0 259.4L848.0 259.4L848.0 256.1L845.0 256.1L845.0 264.4L842.0 264.4L842.0 253.4L839.0 253.4L839.0 248.2L836.0 248.2L836.0 261.3L833.0 261.3L833.0 255.2L830.0 255.2L830.0 254.2L827.0 254.2L827.0 259.6L824.0 259.6L824.0 254.9L821.0 254.9L821.0 263.9L818.0 263.9L818.0 263.3L815.0 263.3L815.0 260.1L812.0 260.1L812.0 253.6L809.0 253.6L809.0 253.6L806.0 253.6L806.0 261.3L803.0 261.3L803.0 255.2L800.0 255.2L800.0 263.7L797.0 263.7L797.0 271.0L794.0 271.0L794.0 261.8L791.0 261.8L791.0 264.0L788.0 264.0L788.0 261.2L785.0 261.2L785.0 261.8L782.0 261.8L782.0 263.4L779.0 263.4L779.0 270.9L776.0 270.9L776.0 272.0L773.0 272.0L773.0 283.5L770.0 283.5L770.0 277.1L767.0 277.1L767.0 285.8L764.0 285.8L764.0 290.4L761.0 290.4L761.0 285.0L758.0 285.0L758.0 285.3L755.0 285.3L755.0 290.2L752.0 290.2L752.0 285.0L749.0 285.0L749.0 297.3L746.0 297.3L746.0 298.9L743.0 298.9L743.0 305.8L740.0 305.8L740.0 303.7L737.0 303.7L737.0 321.1L734.0 321.1L734.0 324.8L731.0 324.8L731.0 308.1L728.0 308.1L728.0 318.9L725.0 318.9L725.0 322.7L722.0 322.7L722.0 316.3L719.0 316.3L719.0 322.0L716.0 322.0L716.0 321.9L713.0 321.9L713.0 333.2L710.0 333.2L710.0 324.9L707.0 324.9L707.0 334.3L704.0 334.3L704.0 335.8L701.0 335.8L701.0 347.4L698.0 347.4L698.0 344.6L695.0 344.6L695.0 341.3L692.0 341.3L692.0 356.9L689.0 356.9L689.0 349.1L686.0 349.1L686.0 359.6L683.0 359.6L683.0 359.3L680.0 359.3L680.0 358.6L677.0 358.6L677.0 351.4L674.0 351.4L674.0 363.9L671.0 363.9L671.0 366.0L668.0 366.0L668.0 367.9L665.0 367.9L665.0 371.2L662.0 371.2L662.0 376.0L659.0 376.0L659.0 374.0L656.0 374.0L656.0 369.1L653.0 369.1L653.0 373.4L650.0 373.4L650.0 379.0L647.0 379.0L647.0 375.6L644.0 375.6L644.0 372.6L641.0 372.6L641.0 383.3L638.0 383.3L638.0 384.4L635.0 384.4L635.0 404.8L632.0 404.8L632.0 408.0L629.0 408.0L629.0 424.5L626.0 424.5L626.0 422.4L623.0 422.4L623.0 411.0L620.0 411.0L620.0 421.6L617.0 421.6L617.0 427.5L614.0 427.5L614.0 423.9L611.0 423.9L611.0 427.0L608.0 427.0L608.0 432.5L605.0 432.5L605.0 434.0L602.0 434.0L602.0 444.9L599.0 444.9L599.0 445.5L596.0 445.5L596.0 451.2L593.0 451.2L593.0 452.7L590.0 452.7L590.0 453.5L587.0 453.5L587.0 450.8L584.0 450.8L584.0 467.9L581.0 467.9L581.0 475.1L578.0 475.1L578.0 475.2L575.0 475.2L575.0 482.8L572.0 482.8L572.0 489.7L569.0 489.7L569.0 489.3L566.0 489.3L566.0 493.8L563.0 493.8L563.0 485.7L560.0 485.7L560.0 506.4L557.0 506.4L557.0 508.2L554.0 508.2L554.0 513.7L551.0 513.7L551.0 511.9L548.0 511.9L548.0 515.1L545.0 515.1L545.0 521.9L542.0 521.9L542.0 526.3L539.0 526.3L539.0 518.0L536.0 518.0L536.0 524.8L533.0 524.8L533.0 528.7L530.0 528.7L530.0 538.7L527.0 538.7L527.0 534.7L524.0 534.7L524.0 542.1L521.0 542.1L521.0 544.4L518.0 544.4L518.0 557.1L515.0 557.1L515.0 564.5L512.0 564.5L512.0 567.6L509.0 567.6L509.0 557.2L506.0 557.2L506.0 556.2L503.0 556.2L503.0 555.2L500.0 555.2L500.0 562.4L497.0 562.4L497.0 572.5L494.0 572.5L494.0 572.3L491.0 572.3L491.0 578.1L488.0 578.1L488.0 592.9L485.0 592.9L485.0 597.1L482.0 597.1L482.0 600.6L479.0 600.6L479.0 605.6L476.0 605.6L476.0 606.5L473.0 606.5L473.0 606.9L470.0 606.9L470.0 608.9L467.0 608.9L467.0 610.4L464.0 610.4L464.0 615.5L461.0 615.5L461.0 620.3L458.0 620.3L458.0 631.7L455.0 631.7L455.0 624.5L452.0 624.5L452.0 632.3L449.0 632.3L449.0 635.9L446.0 635.9L446.0 638.9L443.0 638.9L443.0 642.3L440.0 642.3L440.0 647.2L437.0 647.2L437.0 638.8L434.0 638.8L434.0 633.8L431.0 633.8L431.0 638.7L428.0 638.7L428.0 649.6L425.0 649.6L425.0 651.4L422.0 651.4L422.0 651.1L419.0 651.1L419.0 644.1L416.0 644.1L416.0 643.1L413.0 643.1L413.0 641.9L410.0 641.9L410.0 626.4L407.0 626.4L407.0 637.5L404.0 637.5L404.0 639.6L401.0 639.6L401.0 642.4L398.0 642.4L398.0 643.1L395.0 643.1L395.0 647.4L392.0 647.4L392.0 657.0L389.0 657.0L389.0 656.9L386.0 656.9L386.0 650.8L383.0 650.8L383.0 656.4L380.0 656.4L380.0 657.4L377.0 657.4L377.0 655.2L374.0 655.2L374.0 674.5L371.0 674.5L371.0 667.3L368.0 667.3L368.0 677.1L365.0 677.1L365.0 678.6L362.0 678.6L362.0 671.5L359.0 671.5L359.0 678.1L356.0 678.1L356.0 678.1L353.0 678.1L353.0 664.6L350.0 664.6L350.0 670.1L347.0 670.1L347.0 656.0L344.0 656.0L344.0 656.0L341.0 656.0L341.0 672.7L338.0 672.7L338.0 669.6L335.0 669.6L335.0 671.2L332.0 671.2L332.0 675.3L329.0 675.3L329.0 674.2L326.0 674.2L326.0 675.8L323.0 675.8L323.0 683.1L320.0 683.1L320.0 675.1L317.0 675.1L317.0 683.4L314.0 683.4L314.0 696.4L311.0 696.4L311.0 693.3L308.0 693.3L308.0 690.1L305.0 690.1L305.0 686.0L302.0 686.0L302.0 693.4L299.0 693.4L299.0 697.7L296.0 697.7L296.0 690.6L293.0 690.6L293.0 691.2L290.0 691.2L290.0 704.5L287.0 704.5L287.0 698.2L284.0 698.2L284.0 703.9L281.0 703.9L281.0 694.6L278.0 694.6L278.0 716.9L275.0 716.9L275.0 720.6L272.0 720.6L272.0 713.3L269.0 713.3L269.0 713.4L266.0 713.4L266.0 716.1L263.0 716.1L263.0 725.5L260.0 725.5L260.0 708.6L257.0 708.6L257.0 715.6L254.0 715.6L254.0 722.1L251.0 722.1L251.0 716.3L248.0 716.3L248.0 715.0L245.0 715.0L245.0 721.1L242.0 721.1L242.0 716.8L239.0 716.8L239.0 715.1L236.0 715.1L236.0 720.4L233.0 720.4L233.0 717.6L230.0 717.6L230.0 719.9L227.0 719.9L227.0 724.3L224.0 724.3L224.0 730.6L221.0 730.6L221.0 722.6L218.0 722.6L218.0 726.9L215.0 726.9L215.0 735.7L212.0 735.7L212.0 732.5L209.0 732.5L209.0 729.6L206.0 729.6L206.0 719.9L203.0 719.9L203.0 721.1L200.0 721.1L200.0 721.7L197.0 721.7Z"/>
<path fill="#00ff00" stroke="#00ff00" d="M197.0 706.5L200.0 706.5L200.0 711.7L203.0 711.7L203.0 703.4L206.0 703.4L206.0 713.3L209.0 713.3L209.0 716.0L212.0 716.0L212.0 719.0L215.0 719.0L215.0 722.2L218.0 722.2L218.0 719.2L221.0 719.2L221.0 710.7L224.0 710.7L224.0 712.4L227.0 712.4L227.0 708.1L230.0 708.1L230.0 710.3L233.0 710.3L233.0 710.2L236.0 710.2L236.0 701.9L239.0 701.9L239.0 695.0L242.0 695.0L242.0 692.1L245.0 692.1L245.0 700.9L248.0 700.9L248.0 691.0L251.0 691.0L251.0 697.4L254.0 697.4L254.0 702.9L257.0 702.9L257.0 712.9L260.0 712.9L260.0 701.8L263.0 701.8L263.0 709.1L266.0 709.1L266.0 706.7L269.0 706.7L269.0 711.0L272.0 711.0L272.0 705.4L275.0 705.4L275.0 690.9L278.0 690.9L278.0 691.3L281.0 691.3L281.0 679.1L284.0 679.1L284.0 691.2L287.0 691.2L287.0 686.0L290.0 686.0L290.0 689.1L293.0 689.1L293.0 671.8L296.0 671.8L296.0 681.5L299.0 681.5L299.0 677.5L302.0 677.5L302.0 668.3L305.0 668.3L305.0 673.1L308.0 673.1L308.0 675.2L311.0 675.2L311.0 676.2L314.0 676.2L314.0 671.0L317.0 671.0L317.0 665.3L320.0 665.3L320.0 668.3L323.0 668.3L323.0 663.0L326.0 663.0L326.0 660.0L329.0 660.0L329.0 657.6L332.0 657.6L332.0 661.5L335.0 661.5L335.0 660.1L338.0 660.1L338.0 667.1L341.0 667.1L341.0 655.6L344.0 655.6L344.0 665.5L347.0 665.5L347.0 661.5L350.0 661.5L350.0 666.9L353.0 666.9L353.0 658.3L356.0 658.3L356.0 660.4L359.0 660.4L359.0 661.8L362.0 661.8L362.0 665.0L365.0 665.0L365.0 657.6L368.0 657.6L368.0 656.6L371.0 656.6L371.0 651.3L374.0 651.3L374.0 652.9L377.0 652.9L377.0 645.8L380.0 645.8L380.0 640.5L383.0 640.5L383.0 644.8L386.0 644.8L386.0 643.7L389.0 643.7L389.0 630.2L392.0 630.2L392.0 628.4L395.0 628.4L395.0 637.1L398.0 637.1L398.0 630.0L401.0 630.0L401.0 616.3L404.0 616.3L404.0 625.2L407.0 625.2L407.0 625.1L410.0 625.1L410.0 618.0L413.0 618.0L413.0 619.0L416.0 619.0L416.0 630.2L419.0 630.2L419.0 634.6L422.0 634.6L422.0 620.8L425.0 620.8L425.0 621.1L428.0 621.1L428.0 631.5L431.0 631.5L431.0 622.8L434.0 622.8L434.0 623.2L437.0 623.2L437.0 623.8L440.0 623.8L440.0 628.6L443.0 628.6L443.0 620.8L446.0 620.8L446.0 617.3L449.0 617.3L449.0 616.7L452.0 616.7L452.0 620.9L455.0 620.9L455.0 620.9L458.0 620.9L458.0 598.7L461.0 598.7L461.0 602.6L464.0 602.6L464.0 592.5L467.0 592.5L467.0 589.7L470.0 589.7L470.0 599.0L473.0 599.0L473.0 601.8L476.0 601.8L476.0 588.6L479.0 588.6L479.0 591.5L482.0 591.5L482.0 587.6L485.0 587.6L485.0 584.0L488.0 584.0L488.0 587.4L491.0 587.4L491.0 582.1L494.0 582.1L494.0 595.8L497.0 595.8L497.0 582.7L500.0 582.7L500.0 571.7L503.0 571.7L503.0 568.3L506.0 568.3L506.0 572.7L509.0 572.7L509.0 559.5L512.0 559.5L512.0 561.5L515.0 561.5L515.0 557.9L518.0 557.9L518.0 557.0L521.0 557.0L521.0 552.7L524.0 552.7L524.0 544.7L527.0 544.7L527.0 541.4L530.0 541.4L530.0 534.1L533.0 534.1L533.0 541.2L536.0 541.2L536.0 539.1L539.0 539.1L539.0 534.0L542.0 534.0L542.0 531.1L545.0 531.1L545.0 523.4L548.0 523.4L548.0 533.9L551.0 533.9L551.0 518.0L554.0 518.0L554.0 511.8L557.0 511.8L557.0 511.7L560.0 511.7L560.0 508.1L563.0 508.1L563.0 508.2L566.0 508.2L566.0 491.6L569.0 491.6L569.0 499.0L572.0 499.0L572.0 482.2L575.0 482.2L575.0 486.0L578.0 486.0L578.0 487.0L581.0 487.0L581.0 480.5L584.0 480.5L584.0 472.1L587.0 472.1L587.0 472.6L590.0 472.6L590.0 479.0L593.0 479.0L593.0 456.6L596.0 456.6L596.0 453.1L599.0 453.1L599.0 461.3L602.0 461.3L602.0 459.9L605.0 459.9L605.0 452.1L608.0 452.1L608.0 441.7L611.0 441.7L611.0 434.5L614.0 434.5L614.0 435.7L617.0 435.7L617.0 428.6L620.0 428.6L620.0 426.2L623.0 426.2L623.0 413.1L626.0 413.1L626.0 401.0L629.0 401.0L629.0 404.6L632.0 404.6L632.0 410.2L635.0 410.2L635.0 404.3L638.0 404.3L638.0 397.5L641.0 397.5L641.0 388.2L644.0 388.2L644.0 394.7L647.0 394.7L647.0 393.7L650.0 393.7L650.0 399.2L653.0 399.2L653.0 390.6L656.0 390.6L656.0 386.4L659.0 386.4L659.0 394.1L662.0 394.1L662.0 401.0L665.0 401.0L665.0 397.2L668.0 397.2L668.0 387.0L671.0 387.0L671.0 386.0L674.0 386.0L674.0 382.9L677.0 382.9L677.0 374.9L680.0 374.9L680.0 374.4L683.0 374.4L683.0 371.4L686.0 371.4L686.0 367.5L689.0 367.5L689.0 366.5L692.0 366.5L692.0 363.3L695.0 363.3L695.0 360.2L698.0 360.2L698.0 347.3L701.0 347.3L701.0 347.5L704.0 347.5L704.0 340.4L707.0 340.4L707.0 336.6L710.0 336.6L710.0 333.4L713.0 333.4L713.0 354.6L716.0 354.6L716.0 342.2L719.0 342.2L719.0 342.8L722.0 342.8L722.0 340.9L725.0 340.9L725.0 337.6L728.0 337.6L728.0 340.2L731.0 340.2L731.0 340.4L734.0 340.4L734.0 339.0L737.0 339.0L737.0 336.2L740.0 336.2L740.0 334.9L743.0 334.9L743.0 313.4L746.0 313.4L746.0 317.8L749.0 317.8L749.0 319.2L752.0 319.2L752.0 310.7L755.0 310.7L755.0 307.8L758.0 307.8L758.0 312.5L761.0 312.5L761.0 302.7L764.0 302.7L764.0 306.6L767.0 306.6L767.0 295.9L770.0 295.9L770.0 296.5L773.0 296.5L773.0 290.8L776.0 290.8L776.0 284.2L779.0 284.2L779.0 288.8L782.0 288.8L782.0 289.7L785.0 289.7L785.0 287.2L788.0 287.2L788.0 283.3L791.0 283.3L791.0 295.0L794.0 295.0L794.0 295.0L797.0 295.0L797.0 296.2L800.0 296.2L800.0 294.1L803.0 294.1L803.0 305.1L806.0 305.1L806.0 304.6L809.0 304.6L809.0 300.3L812.0 300.3L812.0 298.8L815.0 298.8L815.0 300.7L818.0 300.7L818.0 304.5L821.0 304.5L821.0 307.1L824.0 307.1L824.0 294.4L827.0 294.4L827.0 292.1L830.0 292.1L830.0 283.4L833.0 283.4L833.0 305.1L836.0 305.1L836.0 287.3L839.0 287.3L839.0 296.5L842.0 296.5L842.0 294.5L845.0 294.5L845.0 297.0L848.0 297.0L848.0 287.2L851.0 287.2L851.0 283.4L854.0 283.4L854.0 292.0L857.0 292.0L857.0 294.0L860.0 294.0L860.0 299.4L863.0 299.4L863.0 287.8L866.0 287.8L866.0 292.5L869.0 292.5L869.0 295.5L872.0 295.5L872.0 295.7L875.0 295.7L875.0 305.1L878.0 305.1L878.0 313.6L881.0 313.6L881.0 317.9L884.0 317.9L884.0 318.2L887.0 318.2L887.0 330.6L890.0 330.6L890.0 339.5L893.0 339.5L893.0 343.3L896.0 343.3L896.0 345.3L899.0 345.3L899.0 333.6L902.0 333.6L902.0 345.1L905.0 345.1L905.0 347.0L908.0 347.0L908.0 344.8L911.0 344.8L911.0 348.0L914.0 348.0L914.0 347.9L917.0 347.9L917.0 360.1L920.0 360.1L920.0 356.6L923.0 356.6L923.0 357.0L926.0 357.0L926.0 365.9L929.0 365.9L929.0 368.3L932.0 368.3L932.0 374.3L935.0 374.3L935.0 371.6L938.0 371.6L938.0 375.6L941.0 375.6L941.0 384.0L944.0 384.0L944.0 396.2L947.0 396.2L947.0 392.3L950.0 392.3L950.0 387.0L953.0 387.0L953.0 398.9L956.0 398.9L956.0 398.5L959.0 398.5L959.0 398.6L962.0 398.6L962.0 408.4L965.0 408.4L965.0 415.6L968.0 415.6L968.0 426.3L971.0 426.3L971.0 437.5L974.0 437.5L974.0 441.3L977.0 441.3L977.0 444.9L980.0 444.9L980.0 446.3L983.0 446.3L983.0 455.3L986.0 455.3L986.0 460.3L989.0 460.3L989.0 474.5L992.0 474.5L992.0 475.3L995.0 475.3L995.0 481.3L998.0 481.3L998.0 497.7L1001.0 497.7L1001.0 500.0L1004.0 500.0L1004.0 499.2L1007.0 499.2L1007.0 499.8L1010.0 499.8L1010.0 501.6L1013.0 501.6L1013.0 505.3L1016.0 505.3L1016.0 512.3L1019.0 512.3L1019.0 513.9L1022.0 513.9L1022.0 516.8L1025.0 516.8L1025.0 520.2L1028.0 520.2L1028.0 518.4L1031.0 518.4L1031.0 528.4L1034.0 528.4L1034.0 541.1L1037.0 541.1L1037.0 541.2L1040.0 541.2L1040.0 540.8L1043.0 540.8L1043.0 547.2L1046.0 547.2L1046.0 550.3L1049.0 550.3L1049.0 562.3L1052.0 562.3L1052.0 576.6L1055.0 576.6L1055.0 583.6L1058.0 583.6L1058.0 588.6L1061.0 588.6L1061.0 594.9L1064.0 594.9L1064.0 596.9L1067.0 596.9L1067.0 598.8L1070.0 598.8L1070.0 610.8L1073.0 610.8L1073.0 614.3L1076.0 614.3L1076.0 625.9L1079.0 625.9L1079.0 628.1L1082.0 628.1L1082.0 629.4L1085.0 629.4L1085.0 637.9L1088.0 637.9L1088.0 692.0L1085.0 692.0L1085.0 703.8L1082.0 703.8L1082.0 694.7L1079.0 694.7L1079.0 678.8L1076.0 678.8L1076.0 677.5L1073.0 677.5L1073.0 673.2L1070.0 673.2L1070.0 663.9L1067.0 663.9L1067.0 660.7L1064.0 660.7L1064.0 645.4L1061.0 645.4L1061.0 632.3L1058.0 632.3L1058.0 618.5L1055.0 618.5L1055.0 623.8L1052.0 623.8L1052.0 619.2L1049.0 619.2L1049.0 616.5L1046.0 616.5L1046.0 606.5L1043.0 606.5L1043.0 596.4L1040.0 596.4L1040.0 595.4L1037.0 595.4L1037.0 593.3L1034.0 593.3L1034.0 589.9L1031.0 589.9L1031.0 584.0L1028.0 584.0L1028.0 569.6L1025.0 569.6L1025.0 564.1L1022.0 564.1L1022.0 556.3L1019.0 556.3L1019.0 553.8L1016.0 553.8L1016.0 547.7L1013.0 547.7L1013.0 534.3L1010.0 534.3L1010.0 534.8L1007.0 534.8L1007.0 528.8L1004.0 528.8L1004.0 530.7L1001.0 530.7L1001.0 517.3L998.0 517.3L998.0 524.4L995.0 524.4L995.0 519.5L992.0 519.5L992.0 508.2L989.0 508.2L989.0 494.6L986.0 494.6L986.0 499.7L983.0 499.7L983.0 493.5L980.0 493.5L980.0 478.4L977.0 478.4L977.0 467.3L974.0 467.3L974.0 470.4L971.0 470.4L971.0 454.4L968.0 454.4L968.0 450.6L965.0 450.6L965.0 459.4L962.0 459.4L962.0 448.1L959.0 448.1L959.0 437.1L956.0 437.1L956.0 436.0L953.0 436.0L953.0 436.0L950.0 436.0L950.0 425.0L947.0 425.0L947.0 424.7L944.0 424.7L944.0 417.9L941.0 417.9L941.0 410.9L938.0 410.9L938.0 416.4L935.0 416.4L935.0 412.9L932.0 412.9L932.0 400.3L929.0 400.3L929.0 396.2L926.0 396.2L926.0 389.6L923.0 389.6L923.0 389.7L920.0 389.7L920.0 394.8L917.0 394.8L917.0 386.7L914.0 386.7L914.0 438.0L911.0 438.0L911.0 378.9L908.0 378.9L908.0 371.4L905.0 371.4L905.0 375.0L902.0 375.0L902.0 368.4L899.0 368.4L899.0 377.5L896.0 377.5L896.0 371.2L893.0 371.2L893.0 377.4L890.0 377.4L890.0 354.6L887.0 354.6L887.0 362.5L884.0 362.5L884.0 351.7L881.0 351.7L881.0 341.7L878.0 341.7L878.0 335.2L875.0 335.2L875.0 338.1L872.0 338.1L872.0 325.7L869.0 325.7L869.0 326.5L866.0 326.5L866.0 321.8L863.0 321.8L863.0 322.3L860.0 322.3L860.0 322.2L857.0 322.2L857.0 331.0L854.0 331.0L854.0 330.1L851.0 330.1L851.0 325.2L848.0 325.2L848.0 317.1L845.0 317.1L845.0 315.5L842.0 315.5L842.0 319.4L839.0 319.4L839.0 322.5L836.0 322.5L836.0 321.3L833.0 321.3L833.0 317.9L830.0 317.9L830.0 314.7L827.0 314.7L827.0 328.9L824.0 328.9L824.0 321.1L821.0 321.1L821.0 320.0L818.0 320.0L818.0 321.8L815.0 321.8L815.0 324.2L812.0 324.2L812.0 323.7L809.0 323.7L809.0 330.2L806.0 330.2L806.0 326.7L803.0 326.7L803.0 335.3L800.0 335.3L800.0 336.2L797.0 336.2L797.0 317.6L794.0 317.6L794.0 328.4L791.0 328.4L791.0 332.0L788.0 332.0L788.0 326.1L785.0 326.1L785.0 332.5L782.0 332.5L782.0 331.7L779.0 331.7L779.0 331.2L776.0 331.2L776.0 338.2L773.0 338.2L773.0 338.6L770.0 338.6L770.0 337.8L767.0 337.8L767.0 342.3L764.0 342.3L764.0 342.8L761.0 342.8L761.0 348.1L758.0 348.1L758.0 351.6L755.0 351.6L755.0 351.9L752.0 351.9L752.0 366.3L749.0 366.3L749.0 355.0L746.0 355.0L746.0 367.6L743.0 367.6L743.0 371.8L740.0 371.8L740.0 369.0L737.0 369.0L737.0 371.0L734.0 371.0L734.0 376.9L731.0 376.9L731.0 382.4L728.0 382.4L728.0 369.9L725.0 369.9L725.0 384.5L722.0 384.5L722.0 372.8L719.0 372.8L719.0 366.7L716.0 366.7L716.0 370.4L713.0 370.4L713.0 380.6L710.0 380.6L710.0 388.4L707.0 388.4L707.0 385.2L704.0 385.2L704.0 393.5L701.0 393.5L701.0 394.7L698.0 394.7L698.0 396.7L695.0 396.7L695.0 402.4L692.0 402.4L692.0 403.2L689.0 403.2L689.0 418.5L686.0 418.5L686.0 419.5L683.0 419.5L683.0 408.8L680.0 408.8L680.0 411.5L677.0 411.5L677.0 420.2L674.0 420.2L674.0 419.4L671.0 419.4L671.0 421.7L668.0 421.7L668.0 419.2L665.0 419.2L665.0 417.4L662.0 417.4L662.0 429.5L659.0 429.5L659.0 435.5L656.0 435.5L656.0 428.7L653.0 428.7L653.0 439.9L650.0 439.9L650.0 432.0L647.0 432.0L647.0 434.5L644.0 434.5L644.0 447.0L641.0 447.0L641.0 449.0L638.0 449.0L638.0 444.2L635.0 444.2L635.0 458.3L632.0 458.3L632.0 456.4L629.0 456.4L629.0 461.0L626.0 461.0L626.0 465.7L623.0 465.7L623.0 472.7L620.0 472.7L620.0 472.7L617.0 472.7L617.0 469.1L614.0 469.1L614.0 471.5L611.0 471.5L611.0 476.4L608.0 476.4L608.0 474.6L605.0 474.6L605.0 487.6L602.0 487.6L602.0 486.3L599.0 486.3L599.0 496.8L596.0 496.8L596.0 506.8L593.0 506.8L593.0 511.1L590.0 511.1L590.0 511.9L587.0 511.9L587.0 508.4L584.0 508.4L584.0 519.8L581.0 519.8L581.0 513.5L578.0 513.5L578.0 520.8L575.0 520.8L575.0 529.3L572.0 529.3L572.0 529.3L569.0 529.3L569.0 534.1L566.0 534.1L566.0 536.9L563.0 536.9L563.0 537.2L560.0 537.2L560.0 544.9L557.0 544.9L557.0 544.5L554.0 544.5L554.0 547.4L551.0 547.4L551.0 558.9L548.0 558.9L548.0 556.2L545.0 556.2L545.0 563.4L542.0 563.4L542.0 565.7L539.0 565.7L539.0 573.1L536.0 573.1L536.0 577.3L533.0 577.3L533.0 572.1L530.0 572.1L530.0 575.2L527.0 575.2L527.0 574.4L524.0 574.4L524.0 584.7L521.0 584.7L521.0 584.4L518.0 584.4L518.0 584.2L515.0 584.2L515.0 589.5L512.0 589.5L512.0 585.2L509.0 585.2L509.0 590.8L506.0 590.8L506.0 600.8L503.0 600.8L503.0 593.0L500.0 593.0L500.0 598.3L497.0 598.3L497.0 612.3L494.0 612.3L494.0 618.1L491.0 618.1L491.0 624.8L488.0 624.8L488.0 630.2L485.0 630.2L485.0 639.9L482.0 639.9L482.0 648.6L479.0 648.6L479.0 658.6L476.0 658.6L476.0 665.5L473.0 665.5L473.0 659.1L470.0 659.1L470.0 667.5L467.0 667.5L467.0 659.5L464.0 659.5L464.0 662.4L461.0 662.4L461.0 660.2L458.0 660.2L458.0 659.9L455.0 659.9L455.0 671.4L452.0 671.4L452.0 673.2L449.0 673.2L449.0 670.8L446.0 670.8L446.0 676.8L443.0 676.8L443.0 674.2L440.0 674.2L440.0 685.3L437.0 685.3L437.0 687.3L434.0 687.3L434.0 679.2L431.0 679.2L431.0 681.4L428.0 681.4L428.0 680.2L425.0 680.2L425.0 693.0L422.0 693.0L422.0 685.6L419.0 685.6L419.0 693.6L416.0 693.6L416.0 681.9L413.0 681.9L413.0 692.5L410.0 692.5L410.0 681.4L407.0 681.4L407.0 684.0L404.0 684.0L404.0 694.0L401.0 694.0L401.0 694.0L398.0 694.0L398.0 697.0L395.0 697.0L395.0 695.4L392.0 695.4L392.0 702.2L389.0 702.2L389.0 707.4L386.0 707.4L386.0 696.8L383.0 696.8L383.0 700.8L380.0 700.8L380.0 699.7L377.0 699.7L377.0 704.2L374.0 704.2L374.0 705.9L371.0 705.9L371.0 705.3L368.0 705.3L368.0 705.1L365.0 705.1L365.0 703.4L362.0 703.4L362.0 705.0L359.0 705.0L359.0 710.1L356.0 710.1L356.0 704.3L353.0 704.3L353.0 717.4L350.0 717.4L350.0 711.9L347.0 711.9L347.0 707.0L344.0 707.0L344.0 708.1L341.0 708.1L341.0 712.9L338.0 712.9L338.0 722.6L335.0 722.6L335.0 716.0L332.0 716.0L332.0 713.4L329.0 713.4L329.0 717.7L326.0 717.7L326.0 713.3L323.0 713.3L323.0 708.8L320.0 708.8L320.0 717.2L317.0 717.2L317.0 721.8L314.0 721.8L314.0 721.0L311.0 721.0L311.0 719.0L308.0 719.0L308.0 732.5L305.0 732.5L305.0 730.2L302.0 730.2L302.0 719.4L299.0 719.4L299.0 731.0L296.0 731.0L296.0 728.0L293.0 728.0L293.0 729.9L290.0 729.9L290.0 731.7L287.0 731.7L287.0 732.9L284.0 732.9L284.0 734.6L281.0 734.6L281.0 730.6L278.0 730.6L278.0 729.8L275.0 729.8L275.0 730.3L272.0 730.3L272.0 728.1L269.0 728.1L269.0 738.3L266.0 738.3L266.0 741.7L263.0 741.7L263.0 737.8L260.0 737.8L260.0 740.4L257.0 740.4L257.0 746.3L254.0 746.3L254.0 736.5L251.0 736.5L251.0 740.9L248.0 740.9L248.0 738.9L245.0 738.9L245.0 732.5L242.0 732.5L242.0 744.9L239.0 744.9L239.0 745.1L236.0 745.1L236.0 744.6L233.0 744.6L233.0 750.5L230.0 750.5L230.0 746.1L227.0 746.1L227.0 745.4L224.0 745.4L224.0 747.4L221.0 747.4L221.0 750.7L218.0 750.7L218.0 751.0L215.0 751.0L215.0 751.0L212.0 751.0L212.0 743.7L209.0 743.7L209.0 750.8L206.0 750.8L206.0 760.1L203.0 760.1L203.0 762.7L200.0 762.7L200.0 750.1L197.0 750.1Z"/>
<path fill="#000000" stroke="#000000" d="M197.0 755.2L200.0 755.2L200.0 751.3L203.0 751.3L203.0 740.4L206.0 740.4L206.0 728.6L209.0 728.6L209.0 727.2L212.0 727.2L212.0 724.0L215.0 724.0L215.0 741.1L218.0 741.1L218.0 741.1L221.0 741.1L221.0 736.3L224.0 736.3L224.0 739.8L227.0 739.8L227.0 734.9L230.0 734.9L230.0 748.4L233.0 748.4L233.0 731.8L236.0 731.8L236.0 728.9L239.0 728.9L239.0 720.8L242.0 720.8L242.0 725.9L245.0 725.9L245.0 723.5L248.0 723.5L248.0 722.8L251.0 722.8L251.0 721.2L254.0 721.2L254.0 728.8L257.0 728.8L257.0 725.5L260.0 725.5L260.0 731.3L263.0 731.3L263.0 725.9L266.0 725.9L266.0 716.9L269.0 716.9L269.0 723.7L272.0 723.7L272.0 718.1L275.0 718.1L275.0 725.7L278.0 725.7L278.0 717.7L281.0 717.7L281.0 719.0L284.0 719.0L284.0 718.9L287.0 718.9L287.0 711.8L290.0 711.8L290.0 715.5L293.0 715.5L293.0 719.9L296.0 719.9L296.0 712.4L299.0 712.4L299.0 713.0L302.0 713.0L302.0 714.7L305.0 714.7L305.0 709.0L308.0 709.0L308.0 711.4L311.0 711.4L311.0 712.6L314.0 712.6L314.0 708.8L317.0 708.8L317.0 709.6L320.0 709.6L320.0 707.6L323.0 707.6L323.0 701.5L326.0 701.5L326.0 699.2L329.0 699.2L329.0 712.3L332.0 712.3L332.0 709.1L335.0 709.1L335.0 702.8L338.0 702.8L338.0 707.3L341.0 707.3L341.0 706.6L344.0 706.6L344.0 705.0L347.0 705.0L347.0 697.3L350.0 697.3L350.0 691.9L353.0 691.9L353.0 690.6L356.0 690.6L356.0 695.6L359.0 695.6L359.0 702.0L362.0 702.0L362.0 700.6L365.0 700.6L365.0 690.0L368.0 690.0L368.0 689.4L371.0 689.4L371.0 694.1L374.0 694.1L374.0 695.8L377.0 695.8L377.0 683.1L380.0 683.1L380.0 689.4L383.0 689.4L383.0 686.5L386.0 686.5L386.0 684.3L389.0 684.3L389.0 684.0L392.0 684.0L392.0 681.8L395.0 681.8L395.0 681.6L398.0 681.6L398.0 674.0L401.0 674.0L401.0 680.6L404.0 680.6L404.0 673.5L407.0 673.5L407.0 672.3L410.0 672.3L410.0 681.1L413.0 681.1L413.0 676.6L416.0 676.6L416.0 674.1L419.0 674.1L419.0 681.7L422.0 681.7L422.0 670.5L425.0 670.5L425.0 671.4L428.0 671.4L428.0 675.4L431.0 675.4L431.0 669.1L434.0 669.1L434.0 661.9L437.0 661.9L437.0 664.0L440.0 664.0L440.0 661.0L443.0 661.0L443.0 660.9L446.0 660.9L446.0 656.3L449.0 656.3L449.0 659.4L452.0 659.4L452.0 656.8L455.0 656.8L455.0 656.7L458.0 656.7L458.0 651.3L461.0 651.3L461.0 656.6L464.0 656.6L464.0 654.0L467.0 654.0L467.0 657.0L470.0 657.0L470.0 640.3L473.0 640.3L473.0 640.9L476.0 640.9L476.0 645.3L479.0 645.3L479.0 633.4L482.0 633.4L482.0 637.7L485.0 637.7L485.0 636.3L488.0 636.3L488.0 625.7L491.0 625.7L491.0 624.1L494.0 624.1L494.0 628.4L497.0 628.4L497.0 616.4L500.0 616.4L500.0 623.7L503.0 623.7L503.0 611.2L506.0 611.2L506.0 608.6L509.0 608.6L509.0 605.3L512.0 605.3L512.0 604.1L515.0 604.1L515.0 602.4L518.0 602.4L518.0 600.9L521.0 600.9L521.0 597.0L524.0 597.0L524.0 596.2L527.0 596.2L527.0 589.5L530.0 589.5L530.0 588.7L533.0 588.7L533.0 588.2L536.0 588.2L536.0 584.2L539.0 584.2L539.0 581.5L542.0 581.5L542.0 581.4L545.0 581.4L545.0 582.0L548.0 582.0L548.0 576.2L551.0 576.2L551.0 568.5L554.0 568.5L554.0 567.3L557.0 567.3L557.0 564.6L560.0 564.6L560.0 573.3L563.0 573.3L563.0 552.0L566.0 552.0L566.0 557.3L569.0 557.3L569.0 547.3L572.0 547.3L572.0 557.2L575.0 557.2L575.0 546.7L578.0 546.7L578.0 547.2L581.0 547.2L581.0 544.1L584.0 544.1L584.0 544.7L587.0 544.7L587.0 529.1L590.0 529.1L590.0 531.5L593.0 531.5L593.0 535.8L596.0 535.8L596.0 528.4L599.0 528.4L599.0 532.9L602.0 532.9L602.0 531.8L605.0 531.8L605.0 514.9L608.0 514.9L608.0 513.7L611.0 513.7L611.0 513.9L614.0 513.9L614.0 517.1L617.0 517.1L617.0 510.6L620.0 510.6L620.0 508.2L623.0 508.2L623.0 497.4L626.0 497.4L626.0 498.9L629.0 498.9L629.0 495.1L632.0 495.1L632.0 488.7L635.0 488.7L635.0 491.1L638.0 491.1L638.0 486.7L641.0 486.7L641.0 481.9L644.0 481.9L644.0 492.5L647.0 492.5L647.0 480.0L650.0 480.0L650.0 485.3L653.0 485.3L653.0 472.3L656.0 472.3L656.0 472.6L659.0 472.6L659.0 466.0L662.0 466.0L662.0 467.0L665.0 467.0L665.0 475.8L668.0 475.8L668.0 467.5L671.0 467.5L671.0 456.0L674.0 456.0L674.0 470.1L677.0 470.1L677.0 459.6L680.0 459.6L680.0 457.9L683.0 457.9L683.0 456.3L686.0 456.3L686.0 445.5L689.0 445.5L689.0 456.5L692.0 456.5L692.0 450.0L695.0 450.0L695.0 440.7L698.0 440.7L698.0 440.1L701.0 440.1L701.0 435.9L704.0 435.9L704.0 432.1L707.0 432.1L707.0 433.4L710.0 433.4L710.0 423.8L713.0 423.8L713.0 427.7L716.0 427.7L716.0 424.6L719.0 424.6L719.0 434.8L722.0 434.8L722.0 417.8L725.0 417.8L725.0 430.1L728.0 430.1L728.0 426.2L731.0 426.2L731.0 422.0L734.0 422.0L734.0 416.2L737.0 416.2L737.0 424.4L740.0 424.4L740.0 421.1L743.0 421.1L743.0 412.3L746.0 412.3L746.0 409.0L749.0 409.0L749.0 407.8L752.0 407.8L752.0 411.7L755.0 411.7L755.0 396.4L758.0 396.4L758.0 400.5L761.0 400.5L761.0 404.6L764.0 404.6L764.0 392.6L767.0 392.6L767.0 398.2L770.0 398.2L770.0 404.0L773.0 404.0L773.0 395.5L776.0 395.5L776.0 394.8L779.0 394.8L779.0 386.0L782.0 386.0L782.0 392.5L785.0 392.5L785.0 384.5L788.0 384.5L788.0 389.3L791.0 389.3L791.0 395.9L794.0 395.9L794.0 395.6L797.0 395.6L797.0 402.6L800.0 402.6L800.0 399.6L803.0 399.6L803.0 395.7L806.0 395.7L806.0 397.5L809.0 397.5L809.0 390.5L812.0 390.5L812.0 381.1L815.0 381.1L815.0 395.9L818.0 395.9L818.0 398.3L821.0 398.3L821.0 388.1L824.0 388.1L824.0 387.5L827.0 387.5L827.0 403.5L830.0 403.5L830.0 396.6L833.0 396.6L833.0 395.5L836.0 395.5L836.0 395.1L839.0 395.1L839.0 406.8L842.0 406.8L842.0 393.0L845.0 393.0L845.0 385.6L848.0 385.6L848.0 393.7L851.0 393.7L851.0 390.7L854.0 390.7L854.0 389.1L857.0 389.1L857.0 391.4L860.0 391.4L860.0 398.1L863.0 398.1L863.0 408.0L866.0 408.0L866.0 405.4L869.0 405.4L869.0 414.6L872.0 414.6L872.0 417.8L875.0 417.8L875.0 417.4L878.0 417.4L878.0 424.5L881.0 424.5L881.0 433.5L884.0 433.5L884.0 433.8L887.0 433.8L887.0 428.3L890.0 428.3L890.0 438.8L893.0 438.8L893.0 442.9L896.0 442.9L896.0 450.5L899.0 450.5L899.0 447.9L902.0 447.9L902.0 455.9L905.0 455.9L905.0 450.6L908.0 450.6L908.0 452.4L911.0 452.4L911.0 451.3L914.0 451.3L914.0 454.5L917.0 454.5L917.0 458.9L920.0 458.9L920.0 458.4L923.0 458.4L923.0 464.6L926.0 464.6L926.0 470.3L929.0 470.3L929.0 478.5L932.0 478.5L932.0 483.3L935.0 483.3L935.0 484.5L938.0 484.5L938.0 492.9L941.0 492.9L941.0 493.4L944.0 493.4L944.0 503.4L947.0 503.4L947.0 491.9L950.0 491.9L950.0 511.1L953.0 511.1L953.0 497.0L956.0 497.0L956.0 503.3L959.0 503.3L959.0 517.1L962.0 517.1L962.0 517.6L965.0 517.6L965.0 524.5L968.0 524.5L968.0 528.9L971.0 528.9L971.0 529.6L974.0 529.6L974.0 535.4L977.0 535.4L977.0 543.5L980.0 543.5L980.0 553.0L983.0 553.0L983.0 559.6L986.0 559.6L986.0 563.7L989.0 563.7L989.0 564.8L992.0 564.8L992.0 575.6L995.0 575.6L995.0 564.4L998.0 564.4L998.0 573.8L1001.0 573.8L1001.0 576.6L1004.0 576.6L1004.0 588.6L1007.0 588.6L1007.0 587.6L1010.0 587.6L1010.0 589.2L1013.0 589.2L1013.0 589.6L1016.0 589.6L1016.0 589.1L1019.0 589.1L1019.0 584.1L1022.0 584.1L1022.0 591.0L1025.0 591.0L1025.0 599.9L1028.0 599.9L1028.0 612.4L1031.0 612.4L1031.0 605.9L1034.0 605.9L1034.0 610.1L1037.0 610.1L1037.0 618.6L1040.0 618.6L1040.0 614.3L1043.0 614.3L1043.0 622.3L1046.0 622.3L1046.0 630.8L1049.0 630.8L1049.0 631.2L1052.0 631.2L1052.0 637.8L1055.0 637.8L1055.0 635.6L1058.0 635.6L1058.0 643.4L1061.0 643.4L1061.0 652.7L1064.0 652.7L1064.0 665.2L1067.0 665.2L1067.0 664.6L1070.0 664.6L1070.0 668.3L1073.0 668.3L1073.0 676.1L1076.0 676.1L1076.0 688.6L1079.0 688.6L1079.0 683.1L1082.0 683.1L1082.0 693.6L1085.0 693.6L1085.0 696.0L1088.0 696.0L1088.0 755.3L1085.0 755.3L1085.0 743.1L1082.0 743.1L1082.0 748.9L1079.0 748.9L1079.0 741.3L1076.0 741.3L1076.0 731.1L1073.0 731.1L1073.0 722.4L1070.0 722.4L1070.0 722.0L1067.0 722.0L1067.0 711.4L1064.0 711.4L1064.0 709.0L1061.0 709.0L1061.0 697.7L1058.0 697.7L1058.0 690.5L1055.0 690.5L1055.0 685.9L1052.0 685.9L1052.0 687.9L1049.0 687.9L1049.0 681.0L1046.0 681.0L1046.0 665.8L1043.0 665.8L1043.0 660.3L1040.0 660.3L1040.0 660.2L1037.0 660.2L1037.0 662.7L1034.0 662.7L1034.0 658.0L1031.0 658.0L1031.0 656.3L1028.0 656.3L1028.0 648.4L1025.0 648.4L1025.0 648.9L1022.0 648.9L1022.0 641.2L1019.0 641.2L1019.0 640.2L1016.0 640.2L1016.0 637.2L1013.0 637.2L1013.0 630.1L1010.0 630.1L1010.0 621.4L1007.0 621.4L1007.0 621.1L1004.0 621.1L1004.0 616.2L1001.0 616.2L1001.0 604.1L998.0 604.1L998.0 615.6L995.0 615.6L995.0 603.4L992.0 603.4L992.0 609.4L989.0 609.4L989.0 604.1L986.0 604.1L986.0 601.8L983.0 601.8L983.0 581.0L980.0 581.0L980.0 582.1L977.0 582.1L977.0 577.5L974.0 577.5L974.0 564.3L971.0 564.3L971.0 571.7L968.0 571.7L968.0 562.2L965.0 562.2L965.0 553.8L962.0 553.8L962.0 555.0L959.0 555.0L959.0 553.2L956.0 553.2L956.0 540.2L953.0 540.2L953.0 537.8L950.0 537.8L950.0 537.4L947.0 537.4L947.0 521.8L944.0 521.8L944.0 523.9L941.0 523.9L941.0 518.2L938.0 518.2L938.0 509.3L935.0 509.3L935.0 504.9L932.0 504.9L932.0 507.0L929.0 507.0L929.0 505.0L926.0 505.0L926.0 496.5L923.0 496.5L923.0 503.2L920.0 503.2L920.0 499.1L917.0 499.1L917.0 489.5L914.0 489.5L914.0 484.9L911.0 484.9L911.0 478.8L908.0 478.8L908.0 478.6L905.0 478.6L905.0 465.1L902.0 465.1L902.0 460.4L899.0 460.4L899.0 470.4L896.0 470.4L896.0 467.5L893.0 467.5L893.0 470.9L890.0 470.9L890.0 456.7L887.0 456.7L887.0 449.2L884.0 449.2L884.0 444.3L881.0 444.3L881.0 441.2L878.0 441.2L878.0 447.6L875.0 447.6L875.0 443.9L872.0 443.9L872.0 427.0L869.0 427.0L869.0 432.5L866.0 432.5L866.0 425.6L863.0 425.6L863.0 421.3L860.0 421.3L860.0 430.5L857.0 430.5L857.0 421.2L854.0 421.2L854.0 425.3L851.0 425.3L851.0 430.3L848.0 430.3L848.0 428.1L845.0 428.1L845.0 424.6L842.0 424.6L842.0 415.2L839.0 415.2L839.0 423.0L836.0 423.0L836.0 418.2L833.0 418.2L833.0 425.0L830.0 425.0L830.0 424.0L827.0 424.0L827.0 418.4L824.0 418.4L824.0 413.5L821.0 413.5L821.0 428.3L818.0 428.3L818.0 416.7L815.0 416.7L815.0 420.4L812.0 420.4L812.0 422.4L809.0 422.4L809.0 423.3L806.0 423.3L806.0 427.1L803.0 427.1L803.0 423.2L800.0 423.2L800.0 431.2L797.0 431.2L797.0 426.6L794.0 426.6L794.0 420.2L791.0 420.2L791.0 412.9L788.0 412.9L788.0 421.4L785.0 421.4L785.0 421.1L782.0 421.1L782.0 423.6L779.0 423.6L779.0 429.1L776.0 429.1L776.0 432.2L773.0 432.2L773.0 433.3L770.0 433.3L770.0 429.2L767.0 429.2L767.0 433.7L764.0 433.7L764.0 429.4L761.0 429.4L761.0 431.7L758.0 431.7L758.0 429.9L755.0 429.9L755.0 444.0L752.0 444.0L752.0 447.9L749.0 447.9L749.0 436.7L746.0 436.7L746.0 447.8L743.0 447.8L743.0 449.7L740.0 449.7L740.0 460.0L737.0 460.0L737.0 463.4L734.0 463.4L734.0 448.5L731.0 448.5L731.0 456.8L728.0 456.8L728.0 466.6L725.0 466.6L725.0 468.1L722.0 468.1L722.0 456.2L719.0 456.2L719.0 460.3L716.0 460.3L716.0 472.0L713.0 472.0L713.0 470.0L710.0 470.0L710.0 470.2L707.0 470.2L707.0 466.1L704.0 466.1L704.0 474.4L701.0 474.4L701.0 471.4L698.0 471.4L698.0 466.9L695.0 466.9L695.0 471.7L692.0 471.7L692.0 474.5L689.0 474.5L689.0 483.4L686.0 483.4L686.0 478.3L683.0 478.3L683.0 489.2L680.0 489.2L680.0 486.9L677.0 486.9L677.0 491.5L674.0 491.5L674.0 500.0L671.0 500.0L671.0 497.6L668.0 497.6L668.0 509.6L665.0 509.6L665.0 498.7L662.0 498.7L662.0 505.3L659.0 505.3L659.0 500.7L656.0 500.7L656.0 511.6L653.0 511.6L653.0 521.9L650.0 521.9L650.0 525.3L647.0 525.3L647.0 525.2L644.0 525.2L644.0 530.9L641.0 530.9L641.0 521.9L638.0 521.9L638.0 527.3L635.0 527.3L635.0 523.9L632.0 523.9L632.0 530.3L629.0 530.3L629.0 535.1L626.0 535.1L626.0 534.1L623.0 534.1L623.0 540.2L620.0 540.2L620.0 538.6L617.0 538.6L617.0 543.9L614.0 543.9L614.0 539.1L611.0 539.1L611.0 553.7L608.0 553.7L608.0 550.1L605.0 550.1L605.0 555.2L602.0 555.2L602.0 561.3L599.0 561.3L599.0 563.8L596.0 563.8L596.0 556.5L593.0 556.5L593.0 569.9L590.0 569.9L590.0 565.5L587.0 565.5L587.0 570.5L584.0 570.5L584.0 576.0L581.0 576.0L581.0 573.3L578.0 573.3L578.0 567.6L575.0 567.6L575.0 579.4L572.0 579.4L572.0 586.3L569.0 586.3L569.0 593.0L566.0 593.0L566.0 597.9L563.0 597.9L563.0 592.5L560.0 592.5L560.0 593.5L557.0 593.5L557.0 599.1L554.0 599.1L554.0 607.6L551.0 607.6L551.0 603.6L548.0 603.6L548.0 607.7L545.0 607.7L545.0 620.2L542.0 620.2L542.0 623.7L539.0 623.7L539.0 620.8L536.0 620.8L536.0 632.3L533.0 632.3L533.0 623.0L530.0 623.0L530.0 625.1L527.0 625.1L527.0 626.1L524.0 626.1L524.0 632.1L521.0 632.1L521.0 627.8L518.0 627.8L518.0 636.7L515.0 636.7L515.0 645.4L512.0 645.4L512.0 655.1L509.0 655.1L509.0 648.6L506.0 648.6L506.0 657.3L503.0 657.3L503.0 656.6L500.0 656.6L500.0 663.5L497.0 663.5L497.0 667.6L494.0 667.6L494.0 659.3L491.0 659.3L491.0 660.3L488.0 660.3L488.0 663.7L485.0 663.7L485.0 664.8L482.0 664.8L482.0 659.3L479.0 659.3L479.0 662.4L476.0 662.4L476.0 674.2L473.0 674.2L473.0 672.1L470.0 672.1L470.0 685.7L467.0 685.7L467.0 676.8L464.0 676.8L464.0 681.2L461.0 681.2L461.0 685.7L458.0 685.7L458.0 683.3L455.0 683.3L455.0 686.2L452.0 686.2L452.0 701.6L449.0 701.6L449.0 703.4L446.0 703.4L446.0 711.7L443.0 711.7L443.0 713.0L440.0 713.0L440.0 703.4L437.0 703.4L437.0 699.0L434.0 699.0L434.0 703.6L431.0 703.6L431.0 704.6L428.0 704.6L428.0 695.4L425.0 695.4L425.0 709.4L422.0 709.4L422.0 703.7L419.0 703.7L419.0 702.3L416.0 702.3L416.0 713.4L413.0 713.4L413.0 714.5L410.0 714.5L410.0 716.7L407.0 716.7L407.0 736.7L404.0 736.7L404.0 738.7L401.0 738.7L401.0 744.4L398.0 744.4L398.0 708.6L395.0 708.6L395.0 721.7L392.0 721.7L392.0 722.5L389.0 722.5L389.0 714.2L386.0 714.2L386.0 726.8L383.0 726.8L383.0 720.6L380.0 720.6L380.0 724.6L377.0 724.6L377.0 745.8L374.0 745.8L374.0 747.9L371.0 747.9L371.0 736.5L368.0 736.5L368.0 753.3L365.0 753.3L365.0 759.2L362.0 759.2L362.0 755.8L359.0 755.8L359.0 749.2L356.0 749.2L356.0 752.9L353.0 752.9L353.0 736.6L350.0 736.6L350.0 740.1L347.0 740.1L347.0 741.1L344.0 741.1L344.0 740.3L341.0 740.3L341.0 735.5L338.0 735.5L338.0 746.5L335.0 746.5L335.0 741.2L332.0 741.2L332.0 745.4L329.0 745.4L329.0 750.5L326.0 750.5L326.0 750.2L323.0 750.2L323.0 744.3L320.0 744.3L320.0 752.1L317.0 752.1L317.0 754.5L314.0 754.5L314.0 750.2L311.0 750.2L311.0 761.1L308.0 761.1L308.0 749.5L305.0 749.5L305.0 760.1L302.0 760.1L302.0 755.4L299.0 755.4L299.0 760.1L296.0 760.1L296.0 754.5L293.0 754.5L293.0 758.6L290.0 758.6L290.0 781.8L287.0 781.8L287.0 786.8L284.0 786.8L284.0 757.4L281.0 757.4L281.0 767.5L278.0 767.5L278.0 774.5L275.0 774.5L275.0 767.2L272.0 767.2L272.0 772.8L269.0 772.8L269.0 770.0L266.0 770.0L266.0 780.7L263.0 780.7L263.0 762.3L260.0 762.3L260.0 768.0L257.0 768.0L257.0 769.9L254.0 769.9L254.0 797.7L251.0 797.7L251.0 797.8L248.0 797.8L248.0 770.5L245.0 770.5L245.0 774.2L242.0 774.2L242.0 770.7L239.0 770.7L239.0 787.4L236.0 787.4L236.0 788.1L233.0 788.1L233.0 790.2L230.0 790.2L230.0 786.9L227.0 786.9L227.0 787.8L224.0 787.8L224.0 794.4L221.0 794.4L221.0 789.1L218.0 789.1L218.0 800.9L215.0 800.9L215.0 793.3L212.0 793.3L212.0 793.5L209.0 793.5L209.0 788.1L206.0 788.1L206.0 804.8L203.0 804.8L203.0 819.2L200.0 819.2L200.0 818.7L197.0 818.7Z"/>
</g>
<rect x="169.0" y="49.0" width="956.0" height="774.5" fill="none" stroke="#000" stroke-width="4.5"/>
<path d="M152.0 823.5H169.0M159.0 771.9H169.0M152.0 720.3H169.0M159.0 668.7H169.0M152.0 617.1H169.0M159.0 565.5H169.0M152.0 513.9H169.0M159.0 462.2H169.0M152.0 410.6H169.0M159.0 359.0H169.0M152.0 307.4H169.0M159.0 255.8H169.0M152.0 204.2H169.0M159.0 152.6H169.0M152.0 101.0H169.0M169.0 823.5V841.0M248.7 823.5V834.5M328.3 823.5V841.0M408.0 823.5V834.5M487.7 823.5V841.0M567.3 823.5V834.5M647.0 823.5V841.0M726.7 823.5V834.5M806.3 823.5V841.0M886.0 823.5V834.5M965.7 823.5V841.0M1045.3 823.5V834.5M1125.0 823.5V841.0" stroke="#000" stroke-width="4.5" fill="none"/>
<g font-family="'Liberation Sans', Arial, Helvetica, sans-serif" font-weight="bold" font-size="39.5" fill="#111">
<text x="147.5" y="837.8" text-anchor="end">0.3</text>
<text x="147.5" y="734.6" text-anchor="end">0.4</text>
<text x="147.5" y="631.4" text-anchor="end">0.5</text>
<text x="147.5" y="528.2" text-anchor="end">0.6</text>
<text x="147.5" y="424.9" text-anchor="end">0.7</text>
<text x="147.5" y="321.7" text-anchor="end">0.8</text>
<text x="147.5" y="218.5" text-anchor="end">0.9</text>
<text x="147.5" y="115.3" text-anchor="end">1.0</text>
<text x="169.0" y="878.5" text-anchor="middle">450</text>
<text x="328.3" y="878.5" text-anchor="middle">500</text>
<text x="487.7" y="878.5" text-anchor="middle">550</text>
<text x="647.0" y="878.5" text-anchor="middle">600</text>
<text x="806.3" y="878.5" text-anchor="middle">650</text>
<text x="965.7" y="878.5" text-anchor="middle">700</text>
<text x="1125.0" y="878.5" text-anchor="middle">750</text>
</g>
<text x="647.4" y="942.2" text-anchor="middle" font-family="'Liberation Sans', Arial, Helvetica, sans-serif" font-weight="bold" font-size="46.6" fill="#111">Wavelength (nm)</text>
<text transform="translate(64.3 439) rotate(-90)" text-anchor="middle" font-family="'Liberation Sans', Arial, Helvetica, sans-serif" font-weight="bold" font-size="46" fill="#111">Absorbance</text>
<text x="18.5" y="81" font-family="'Liberation Sans', Arial, Helvetica, sans-serif" font-weight="bold" font-size="52" fill="#111">(a)</text>
<line x1="931" y1="87" x2="1022" y2="87" stroke="#ff2020" stroke-width="6.5"/>
<text x="1030" y="101" font-family="'Liberation Sans', Arial, Helvetica, sans-serif" font-weight="bold" font-size="46.5" fill="#111">90°</text>
<line x1="931" y1="132" x2="1022" y2="132" stroke="#2020ff" stroke-width="6.5"/>
<text x="1030" y="146" font-family="'Liberation Sans', Arial, Helvetica, sans-serif" font-weight="bold" font-size="46.5" fill="#111">60°</text>
<line x1="931" y1="178" x2="1022" y2="178" stroke="#00ee00" stroke-width="6.5"/>
<text x="1030" y="192" font-family="'Liberation Sans', Arial, Helvetica, sans-serif" font-weight="bold" font-size="46.5" fill="#111">30°</text>
<line x1="931" y1="227" x2="1022" y2="227" stroke="#222" stroke-width="6.5"/>
<text x="1030" y="241" font-family="'Liberation Sans', Arial, Helvetica, sans-serif" font-weight="bold" font-size="46.5" fill="#111">0°</text>
<rect x="180" y="61" width="360" height="336" fill="#7c400c"/>
<rect x="180" y="61" width="3" height="336" fill="#6c3409"/>
<rect x="180" y="394" width="360" height="3" fill="#743a0a"/>
<g>
<polygon points="292.3,252.5 299.4,226.6 387.5,226.6 391.5,252.5" fill="#fffdf0"/>
<polyline points="299.4,226.6 292.3,253 391.5,253 387.5,226.6" fill="none" stroke="#ffc830" stroke-width="2.2" stroke-linejoin="round"/>
<line x1="293" y1="255" x2="392" y2="255" stroke="#e07810" stroke-width="1.6"/>
<rect x="426" y="363" width="23" height="14" fill="#ffffff"/>
<circle cx="220" cy="310" r="4.5" fill="#a04a10" opacity="0.6"/><circle cx="220" cy="310" r="2.6" fill="#e8640f"/>
<line x1="345" y1="280" x2="398" y2="330" stroke="#5a2c08" stroke-width="5" opacity="0.25"/>
<g stroke="#ffbd00" stroke-width="6.5" fill="none" stroke-linecap="butt" stroke-linejoin="miter">
<path d="M350.3 240 V88 M334 114 L350.3 86 L366.5 114"/>
<path d="M347 241.3 H524 M496.5 228 L525 242 L496.5 256"/>
</g>
<g font-family="'Liberation Sans', Arial, sans-serif" font-weight="bold" fill="#ffbd00">
<text x="344.5" y="293" font-size="44.5" textLength="189" lengthAdjust="spacingAndGlyphs">Armchair</text>
<text x="453.5" y="226" font-size="48" textLength="48" lengthAdjust="spacingAndGlyphs">90</text>
<text x="506" y="226" font-size="44">°</text>
<text transform="translate(322 211) rotate(-90)" font-size="47" textLength="128" lengthAdjust="spacingAndGlyphs">Zigzag</text>
<text transform="translate(404 142) rotate(-90)" font-size="46">0°</text>
</g>
</g>
<g fill="none">
<circle cx="1635.5" cy="488.2" r="345" stroke="#cacaca" stroke-width="1.6"/>
<circle cx="1635.5" cy="488.2" r="335" stroke="#bcbcbc" stroke-width="1.6"/>
<circle cx="1635.5" cy="488.2" r="325" stroke="#cacaca" stroke-width="1.6"/>
<circle cx="1635.5" cy="488.2" r="315" stroke="#bcbcbc" stroke-width="1.6"/>
<circle cx="1635.5" cy="488.2" r="305" stroke="#cacaca" stroke-width="1.6"/>
<circle cx="1635.5" cy="488.2" r="295" stroke="#bcbcbc" stroke-width="1.6"/>
<circle cx="1635.5" cy="488.2" r="285" stroke="#cacaca" stroke-width="1.6"/>
<circle cx="1635.5" cy="488.2" r="275" stroke="#bcbcbc" stroke-width="1.6"/>
<circle cx="1635.5" cy="488.2" r="265" stroke="#cacaca" stroke-width="1.6"/>
<circle cx="1635.5" cy="488.2" r="255" stroke="#bcbcbc" stroke-width="1.6"/>
<circle cx="1635.5" cy="488.2" r="245" stroke="#cacaca" stroke-width="1.6"/>
<circle cx="1635.5" cy="488.2" r="235" stroke="#bcbcbc" stroke-width="1.6"/>
<circle cx="1635.5" cy="488.2" r="225" stroke="#cacaca" stroke-width="1.6"/>
<circle cx="1635.5" cy="488.2" r="215" stroke="#bcbcbc" stroke-width="1.6"/>
<circle cx="1635.5" cy="488.2" r="205" stroke="#cacaca" stroke-width="1.6"/>
<circle cx="1635.5" cy="488.2" r="195" stroke="#bcbcbc" stroke-width="1.6"/>
<circle cx="1635.5" cy="488.2" r="189" stroke="#cfcfcf" stroke-width="1.3" opacity="0.5"/>
<circle cx="1635.5" cy="488.2" r="184" stroke="#cfcfcf" stroke-width="1.3" opacity="0.25"/>
<path d="M1822.5 488.2L1990.5 488.2M1797.4 394.7L1942.9 310.7M1729.0 326.3L1813.0 180.8M1635.5 301.2L1635.5 133.2M1542.0 326.3L1458.0 180.8M1473.6 394.7L1328.1 310.7M1448.5 488.2L1280.5 488.2M1473.6 581.7L1328.1 665.7M1542.0 650.1L1458.0 795.6M1635.5 675.2L1635.5 843.2M1729.0 650.1L1813.0 795.6M1797.4 581.7L1942.9 665.7" stroke="#ababab" stroke-width="2"/>
<circle cx="1635.5" cy="488.2" r="355.0" stroke="#8c8c8c" stroke-width="2.6"/>
<path d="M1978.4 396.3L1971.6 398.1M1886.5 237.2L1881.6 242.1M1727.4 145.3L1725.6 152.1M1543.6 145.3L1545.4 152.1M1384.5 237.2L1389.4 242.1M1292.6 396.3L1299.4 398.1M1292.6 580.1L1299.4 578.3M1384.5 739.2L1389.4 734.3M1543.6 831.1L1545.4 824.3M1727.4 831.1L1725.6 824.3M1886.5 739.2L1881.6 734.3M1978.4 580.1L1971.6 578.3" stroke="#8c8c8c" stroke-width="2"/>
<polyline points="1843.5,488.2 1843.5,486.4 1843.5,484.6 1843.5,482.8 1843.5,480.9 1843.5,479.1 1843.5,477.3 1843.5,475.5 1843.6,473.7 1843.6,471.8 1843.6,470.0 1843.6,468.2 1843.6,466.3 1843.6,464.5 1843.7,462.6 1843.7,460.8 1843.7,458.9 1843.7,457.1 1843.7,455.2 1843.8,453.4 1843.8,451.5 1843.8,449.6 1843.8,447.7 1843.8,445.8 1843.8,443.9 1843.9,442.0 1843.9,440.1 1843.9,438.2 1843.9,436.2 1843.9,434.3 1843.9,432.4 1843.9,430.4 1843.9,428.4 1843.9,426.5 1843.9,424.5 1843.8,422.5 1843.8,420.5 1843.8,418.5 1843.7,416.5 1843.7,414.5 1843.7,412.4 1843.6,410.4 1843.5,408.3 1843.5,406.3 1843.4,404.2 1843.3,402.1 1843.2,400.0 1843.1,397.9 1843.0,395.8 1842.8,393.7 1842.7,391.6 1842.6,389.4 1842.4,387.3 1842.2,385.1 1842.0,383.0 1841.8,380.8 1841.6,378.6 1841.4,376.4 1841.2,374.2 1840.9,372.0 1840.6,369.8 1840.4,367.5 1840.1,365.3 1839.7,363.0 1839.4,360.8 1839.0,358.5 1838.7,356.3 1838.3,354.0 1837.9,351.7 1837.5,349.4 1837.0,347.1 1836.5,344.8 1836.1,342.5 1835.6,340.2 1835.0,337.8 1834.5,335.5 1833.9,333.2 1833.3,330.9 1832.7,328.5 1832.1,326.2 1831.4,323.8 1830.7,321.5 1830.0,319.1 1829.3,316.8 1828.5,314.4 1827.7,312.1 1826.9,309.7 1826.1,307.4 1825.2,305.0 1824.3,302.6 1823.4,300.3 1822.5,297.9 1821.5,295.6 1820.5,293.2 1819.5,290.9 1818.4,288.6 1817.4,286.2 1816.3,283.9 1815.1,281.6 1814.0,279.3 1812.8,276.9 1811.5,274.6 1810.3,272.3 1809.0,270.1 1807.7,267.8 1806.4,265.5 1805.0,263.2 1803.6,261.0 1802.2,258.8 1800.7,256.5 1799.3,254.3 1797.7,252.1 1796.2,249.9 1794.6,247.8 1793.0,245.6 1791.4,243.5 1789.7,241.4 1788.1,239.3 1786.3,237.2 1784.6,235.1 1782.8,233.0 1781.0,231.0 1779.2,229.0 1777.3,227.0 1775.4,225.0 1773.5,223.1 1771.6,221.2 1769.6,219.3 1767.6,217.4 1765.6,215.5 1763.5,213.7 1761.4,211.9 1759.3,210.1 1757.2,208.4 1755.0,206.6 1752.8,205.0 1750.6,203.3 1748.4,201.6 1746.1,200.0 1743.8,198.5 1741.5,196.9 1739.2,195.4 1736.8,193.9 1734.5,192.4 1732.1,191.0 1729.6,189.6 1727.2,188.3 1724.7,187.0 1722.2,185.7 1719.7,184.4 1717.2,183.2 1714.7,182.0 1712.1,180.9 1709.6,179.8 1707.0,178.7 1704.3,177.7 1701.7,176.7 1699.1,175.7 1696.4,174.8 1693.8,173.9 1691.1,173.0 1688.4,172.2 1685.7,171.5 1682.9,170.7 1680.2,170.1 1677.5,169.4 1674.7,168.8 1672.0,168.3 1669.2,167.7 1666.4,167.2 1663.6,166.8 1660.8,166.4 1658.0,166.0 1655.2,165.7 1652.4,165.5 1649.6,165.2 1646.8,165.0 1644.0,164.9 1641.1,164.8 1638.3,164.7 1635.5,164.7 1632.7,164.7 1629.9,164.8 1627.0,164.9 1624.2,165.0 1621.4,165.2 1618.6,165.5 1615.8,165.7 1613.0,166.0 1610.2,166.4 1607.4,166.8 1604.6,167.2 1601.8,167.7 1599.0,168.3 1596.3,168.8 1593.5,169.4 1590.8,170.1 1588.1,170.7 1585.3,171.5 1582.6,172.2 1579.9,173.0 1577.2,173.9 1574.6,174.8 1571.9,175.7 1569.3,176.7 1566.7,177.7 1564.0,178.7 1561.4,179.8 1558.9,180.9 1556.3,182.0 1553.8,183.2 1551.3,184.4 1548.8,185.7 1546.3,187.0 1543.8,188.3 1541.4,189.6 1538.9,191.0 1536.5,192.4 1534.2,193.9 1531.8,195.4 1529.5,196.9 1527.2,198.5 1524.9,200.0 1522.6,201.6 1520.4,203.3 1518.2,205.0 1516.0,206.6 1513.8,208.4 1511.7,210.1 1509.6,211.9 1507.5,213.7 1505.4,215.5 1503.4,217.4 1501.4,219.3 1499.4,221.2 1497.5,223.1 1495.6,225.0 1493.7,227.0 1491.8,229.0 1490.0,231.0 1488.2,233.0 1486.4,235.1 1484.7,237.2 1482.9,239.3 1481.3,241.4 1479.6,243.5 1478.0,245.6 1476.4,247.8 1474.8,249.9 1473.3,252.1 1471.7,254.3 1470.3,256.5 1468.8,258.8 1467.4,261.0 1466.0,263.2 1464.6,265.5 1463.3,267.8 1462.0,270.1 1460.7,272.3 1459.5,274.6 1458.2,276.9 1457.0,279.3 1455.9,281.6 1454.7,283.9 1453.6,286.2 1452.6,288.6 1451.5,290.9 1450.5,293.2 1449.5,295.6 1448.5,297.9 1447.6,300.3 1446.7,302.6 1445.8,305.0 1444.9,307.4 1444.1,309.7 1443.3,312.1 1442.5,314.4 1441.7,316.8 1441.0,319.1 1440.3,321.5 1439.6,323.8 1438.9,326.2 1438.3,328.5 1437.7,330.9 1437.1,333.2 1436.5,335.5 1436.0,337.8 1435.4,340.2 1434.9,342.5 1434.5,344.8 1434.0,347.1 1433.5,349.4 1433.1,351.7 1432.7,354.0 1432.3,356.3 1432.0,358.5 1431.6,360.8 1431.3,363.0 1430.9,365.3 1430.6,367.5 1430.4,369.8 1430.1,372.0 1429.8,374.2 1429.6,376.4 1429.4,378.6 1429.2,380.8 1429.0,383.0 1428.8,385.1 1428.6,387.3 1428.4,389.4 1428.3,391.6 1428.2,393.7 1428.0,395.8 1427.9,397.9 1427.8,400.0 1427.7,402.1 1427.6,404.2 1427.5,406.3 1427.5,408.3 1427.4,410.4 1427.3,412.4 1427.3,414.5 1427.3,416.5 1427.2,418.5 1427.2,420.5 1427.2,422.5 1427.1,424.5 1427.1,426.5 1427.1,428.4 1427.1,430.4 1427.1,432.4 1427.1,434.3 1427.1,436.2 1427.1,438.2 1427.1,440.1 1427.1,442.0 1427.2,443.9 1427.2,445.8 1427.2,447.7 1427.2,449.6 1427.2,451.5 1427.2,453.4 1427.3,455.2 1427.3,457.1 1427.3,458.9 1427.3,460.8 1427.3,462.6 1427.4,464.5 1427.4,466.3 1427.4,468.2 1427.4,470.0 1427.4,471.8 1427.4,473.7 1427.5,475.5 1427.5,477.3 1427.5,479.1 1427.5,480.9 1427.5,482.8 1427.5,484.6 1427.5,486.4 1427.5,488.2 1427.5,490.0 1427.5,491.8 1427.5,493.6 1427.5,495.5 1427.5,497.3 1427.5,499.1 1427.5,500.9 1427.4,502.7 1427.4,504.6 1427.4,506.4 1427.4,508.2 1427.4,510.1 1427.4,511.9 1427.3,513.8 1427.3,515.6 1427.3,517.5 1427.3,519.3 1427.3,521.2 1427.2,523.0 1427.2,524.9 1427.2,526.8 1427.2,528.7 1427.2,530.6 1427.2,532.5 1427.1,534.4 1427.1,536.3 1427.1,538.2 1427.1,540.2 1427.1,542.1 1427.1,544.0 1427.1,546.0 1427.1,548.0 1427.1,549.9 1427.1,551.9 1427.2,553.9 1427.2,555.9 1427.2,557.9 1427.3,559.9 1427.3,561.9 1427.3,564.0 1427.4,566.0 1427.5,568.1 1427.5,570.1 1427.6,572.2 1427.7,574.3 1427.8,576.4 1427.9,578.5 1428.0,580.6 1428.2,582.7 1428.3,584.8 1428.4,587.0 1428.6,589.1 1428.8,591.3 1429.0,593.4 1429.2,595.6 1429.4,597.8 1429.6,600.0 1429.8,602.2 1430.1,604.4 1430.4,606.6 1430.6,608.9 1430.9,611.1 1431.3,613.4 1431.6,615.6 1432.0,617.9 1432.3,620.1 1432.7,622.4 1433.1,624.7 1433.5,627.0 1434.0,629.3 1434.5,631.6 1434.9,633.9 1435.4,636.2 1436.0,638.6 1436.5,640.9 1437.1,643.2 1437.7,645.5 1438.3,647.9 1438.9,650.2 1439.6,652.6 1440.3,654.9 1441.0,657.3 1441.7,659.6 1442.5,662.0 1443.3,664.3 1444.1,666.7 1444.9,669.0 1445.8,671.4 1446.7,673.8 1447.6,676.1 1448.5,678.5 1449.5,680.8 1450.5,683.2 1451.5,685.5 1452.6,687.8 1453.6,690.2 1454.7,692.5 1455.9,694.8 1457.0,697.1 1458.2,699.5 1459.5,701.8 1460.7,704.1 1462.0,706.3 1463.3,708.6 1464.6,710.9 1466.0,713.2 1467.4,715.4 1468.8,717.6 1470.3,719.9 1471.7,722.1 1473.3,724.3 1474.8,726.5 1476.4,728.6 1478.0,730.8 1479.6,732.9 1481.3,735.0 1482.9,737.1 1484.7,739.2 1486.4,741.3 1488.2,743.4 1490.0,745.4 1491.8,747.4 1493.7,749.4 1495.6,751.4 1497.5,753.3 1499.4,755.2 1501.4,757.1 1503.4,759.0 1505.4,760.9 1507.5,762.7 1509.6,764.5 1511.7,766.3 1513.8,768.0 1516.0,769.8 1518.2,771.4 1520.4,773.1 1522.6,774.8 1524.9,776.4 1527.2,777.9 1529.5,779.5 1531.8,781.0 1534.2,782.5 1536.5,784.0 1538.9,785.4 1541.4,786.8 1543.8,788.1 1546.3,789.4 1548.8,790.7 1551.3,792.0 1553.8,793.2 1556.3,794.4 1558.9,795.5 1561.4,796.6 1564.0,797.7 1566.7,798.7 1569.3,799.7 1571.9,800.7 1574.6,801.6 1577.2,802.5 1579.9,803.4 1582.6,804.2 1585.3,804.9 1588.1,805.7 1590.8,806.3 1593.5,807.0 1596.3,807.6 1599.0,808.1 1601.8,808.7 1604.6,809.2 1607.4,809.6 1610.2,810.0 1613.0,810.4 1615.8,810.7 1618.6,810.9 1621.4,811.2 1624.2,811.4 1627.0,811.5 1629.9,811.6 1632.7,811.7 1635.5,811.7 1638.3,811.7 1641.1,811.6 1644.0,811.5 1646.8,811.4 1649.6,811.2 1652.4,810.9 1655.2,810.7 1658.0,810.4 1660.8,810.0 1663.6,809.6 1666.4,809.2 1669.2,808.7 1672.0,808.1 1674.7,807.6 1677.5,807.0 1680.2,806.3 1682.9,805.7 1685.7,804.9 1688.4,804.2 1691.1,803.4 1693.8,802.5 1696.4,801.6 1699.1,800.7 1701.7,799.7 1704.3,798.7 1707.0,797.7 1709.6,796.6 1712.1,795.5 1714.7,794.4 1717.2,793.2 1719.7,792.0 1722.2,790.7 1724.7,789.4 1727.2,788.1 1729.6,786.8 1732.1,785.4 1734.5,784.0 1736.8,782.5 1739.2,781.0 1741.5,779.5 1743.8,777.9 1746.1,776.4 1748.4,774.8 1750.6,773.1 1752.8,771.4 1755.0,769.8 1757.2,768.0 1759.3,766.3 1761.4,764.5 1763.5,762.7 1765.6,760.9 1767.6,759.0 1769.6,757.1 1771.6,755.2 1773.5,753.3 1775.4,751.4 1777.3,749.4 1779.2,747.4 1781.0,745.4 1782.8,743.4 1784.6,741.3 1786.3,739.2 1788.1,737.1 1789.7,735.0 1791.4,732.9 1793.0,730.8 1794.6,728.6 1796.2,726.5 1797.7,724.3 1799.3,722.1 1800.7,719.9 1802.2,717.6 1803.6,715.4 1805.0,713.2 1806.4,710.9 1807.7,708.6 1809.0,706.3 1810.3,704.1 1811.5,701.8 1812.8,699.5 1814.0,697.1 1815.1,694.8 1816.3,692.5 1817.4,690.2 1818.4,687.8 1819.5,685.5 1820.5,683.2 1821.5,680.8 1822.5,678.5 1823.4,676.1 1824.3,673.8 1825.2,671.4 1826.1,669.0 1826.9,666.7 1827.7,664.3 1828.5,662.0 1829.3,659.6 1830.0,657.3 1830.7,654.9 1831.4,652.6 1832.1,650.2 1832.7,647.9 1833.3,645.5 1833.9,643.2 1834.5,640.9 1835.0,638.6 1835.6,636.2 1836.1,633.9 1836.5,631.6 1837.0,629.3 1837.5,627.0 1837.9,624.7 1838.3,622.4 1838.7,620.1 1839.0,617.9 1839.4,615.6 1839.7,613.4 1840.1,611.1 1840.4,608.9 1840.6,606.6 1840.9,604.4 1841.2,602.2 1841.4,600.0 1841.6,597.8 1841.8,595.6 1842.0,593.4 1842.2,591.3 1842.4,589.1 1842.6,587.0 1842.7,584.8 1842.8,582.7 1843.0,580.6 1843.1,578.5 1843.2,576.4 1843.3,574.3 1843.4,572.2 1843.5,570.1 1843.5,568.1 1843.6,566.0 1843.7,564.0 1843.7,561.9 1843.7,559.9 1843.8,557.9 1843.8,555.9 1843.8,553.9 1843.9,551.9 1843.9,549.9 1843.9,548.0 1843.9,546.0 1843.9,544.0 1843.9,542.1 1843.9,540.2 1843.9,538.2 1843.9,536.3 1843.9,534.4 1843.8,532.5 1843.8,530.6 1843.8,528.7 1843.8,526.8 1843.8,524.9 1843.8,523.0 1843.7,521.2 1843.7,519.3 1843.7,517.5 1843.7,515.6 1843.7,513.8 1843.6,511.9 1843.6,510.1 1843.6,508.2 1843.6,506.4 1843.6,504.6 1843.6,502.7 1843.5,500.9 1843.5,499.1 1843.5,497.3 1843.5,495.5 1843.5,493.6 1843.5,491.8 1843.5,490.0 1843.5,488.2" stroke="#787878" stroke-width="5"/>
</g>
<defs><radialGradient id="bd" cx="0.4" cy="0.35" r="0.65"><stop offset="0" stop-color="#c8c8ff"/><stop offset="0.22" stop-color="#2a2aff"/><stop offset="1" stop-color="#0000f0"/></radialGradient></defs>
<circle cx="1835.5" cy="488.2" r="10.5" fill="url(#bd)"/>
<circle cx="1852.0" cy="363.2" r="10.5" fill="url(#bd)"/>
<circle cx="1773.0" cy="250.0" r="10.5" fill="url(#bd)"/>
<circle cx="1635.5" cy="151.2" r="10.5" fill="url(#bd)"/>
<circle cx="1491.0" cy="237.9" r="10.5" fill="url(#bd)"/>
<circle cx="1420.7" cy="364.2" r="10.5" fill="url(#bd)"/>
<circle cx="1431.5" cy="488.2" r="10.5" fill="url(#bd)"/>
<circle cx="1426.8" cy="608.7" r="10.5" fill="url(#bd)"/>
<circle cx="1491.5" cy="737.6" r="10.5" fill="url(#bd)"/>
<circle cx="1635.5" cy="814.2" r="10.5" fill="url(#bd)"/>
<circle cx="1782.0" cy="741.9" r="10.5" fill="url(#bd)"/>
<circle cx="1852.0" cy="613.2" r="10.5" fill="url(#bd)"/>
<path d="M1635.5 489.7V158" stroke="#ff1414" stroke-width="3.8" fill="none"/>
<path d="M1633.6 488.2H1966" stroke="#ff2a2a" stroke-width="2.6" fill="none"/>
<polygon points="1635.5,132 1625.0,165 1646.0,165" fill="#ff1414"/>
<polygon points="1993,488.2 1963,480.2 1963,496.2" fill="#ff1414"/>
<g font-family="'Liberation Sans', Arial, Helvetica, sans-serif" font-weight="bold" font-size="41.5" fill="#111" text-anchor="middle">
<text x="1635.7" y="101">90</text>
<text x="1826" y="157.5">60</text>
<text x="1974.5" y="301.5">30</text>
<text x="2017.5" y="500.6">0</text>
<text x="1985.5" y="699.7">330</text>
<text x="1837" y="845">300</text>
<text x="1635.5" y="896.6">270</text>
<text x="1430.7" y="845">240</text>
<text x="1281" y="699.5">210</text>
<text x="1231" y="500.2">180</text>
<text x="1281" y="301.8">150</text>
<text x="1429.5" y="157.5">120</text>
</g>
<text x="1170.5" y="81" font-family="'Liberation Sans', Arial, Helvetica, sans-serif" font-weight="bold" font-size="52" fill="#111">(b)</text>
</g>
</svg>
</body></html>
